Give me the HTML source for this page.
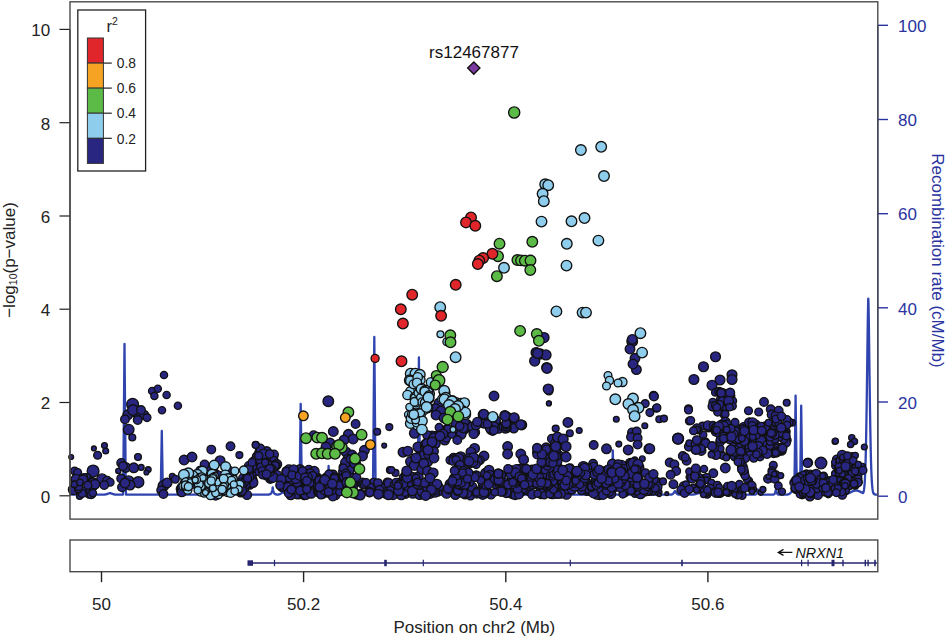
<!DOCTYPE html><html><head><meta charset="utf-8"><title>plot</title><style>html,body{margin:0;padding:0;background:#fff}svg{display:block}</style></head><body><svg width="946" height="637" viewBox="0 0 946 637" font-family="Liberation Sans, sans-serif">
<rect width="946" height="637" fill="#fff"/>
<path d="M70.5,494.6 L70.8,494.6 L71.1,494.6 L71.4,494.6 L71.7,494.6 L72.0,494.6 L72.3,494.6 L72.6,494.6 L72.9,494.6 L73.2,494.6 L73.5,494.6 L73.8,494.6 L74.1,494.6 L74.4,494.6 L74.7,494.6 L75.0,494.6 L75.3,494.6 L75.6,494.6 L75.9,494.6 L76.2,494.6 L76.5,494.6 L76.8,494.6 L77.1,494.6 L77.4,494.6 L77.7,494.6 L78.0,494.6 L78.3,494.6 L78.6,494.6 L78.9,494.6 L79.2,494.6 L79.5,494.6 L79.8,494.6 L80.1,494.6 L80.4,494.5 L80.7,494.5 L81.0,494.4 L81.3,494.4 L81.6,494.3 L81.9,494.1 L82.2,494.0 L82.5,493.8 L82.8,493.6 L83.1,493.4 L83.4,493.2 L83.7,493.0 L84.0,492.8 L84.3,492.7 L84.6,492.6 L84.9,492.5 L85.0,492.5 L85.2,492.5 L85.5,492.6 L85.8,492.7 L86.1,492.9 L86.4,493.1 L86.7,493.3 L87.0,493.5 L87.3,493.7 L87.6,493.9 L87.9,494.1 L88.2,494.2 L88.5,494.3 L88.8,494.4 L89.1,494.5 L89.4,494.5 L89.7,494.5 L90.0,494.6 L90.3,494.6 L90.6,494.6 L90.9,494.6 L91.2,494.6 L91.5,494.6 L91.8,494.6 L92.1,494.6 L92.4,494.6 L92.7,494.6 L93.0,494.6 L93.3,494.6 L93.6,494.6 L93.9,494.6 L94.2,494.6 L94.5,494.6 L94.8,494.6 L95.1,494.6 L95.4,494.6 L95.7,494.6 L96.0,494.6 L96.3,494.6 L96.6,494.6 L96.9,494.6 L97.2,494.6 L97.5,494.6 L97.8,494.6 L98.1,494.6 L98.4,494.6 L98.7,494.6 L99.0,494.6 L99.3,494.6 L99.6,494.6 L99.9,494.6 L100.2,494.6 L100.5,494.6 L100.8,494.6 L101.1,494.6 L101.4,494.6 L101.7,494.6 L102.0,494.6 L102.3,494.6 L102.6,494.6 L102.9,494.6 L103.2,494.6 L103.5,494.6 L103.8,494.6 L104.1,494.6 L104.4,494.6 L104.7,494.5 L105.0,494.5 L105.3,494.5 L105.6,494.4 L105.9,494.4 L106.2,494.3 L106.5,494.2 L106.8,494.2 L107.1,494.1 L107.4,493.9 L107.7,493.8 L108.0,493.7 L108.3,493.6 L108.6,493.5 L108.9,493.4 L109.2,493.3 L109.5,493.2 L109.8,493.2 L110.0,493.2 L110.1,493.2 L110.4,493.2 L110.7,493.3 L111.0,493.3 L111.3,493.4 L111.6,493.5 L111.9,493.7 L112.2,493.8 L112.5,493.9 L112.8,494.0 L113.1,494.1 L113.4,494.2 L113.7,494.3 L114.0,494.4 L114.3,494.4 L114.6,494.5 L114.9,494.5 L115.2,494.5 L115.5,494.6 L115.8,494.6 L116.1,494.6 L116.4,494.6 L116.7,494.6 L117.0,494.6 L117.3,494.6 L117.6,494.6 L117.9,494.6 L118.2,494.6 L118.5,494.6 L118.8,494.6 L119.1,494.6 L119.4,494.6 L119.7,494.6 L120.0,494.6 L120.3,494.6 L120.6,494.6 L120.9,494.6 L121.2,494.6 L121.5,494.6 L121.8,494.6 L122.1,494.6 L122.4,494.6 L122.7,494.6 L123.0,494.6 L123.3,483.0 L123.6,448.3 L123.9,413.5 L124.2,378.8 L124.5,344.0 L124.5,344.0 L124.8,378.8 L125.1,413.5 L125.4,448.3 L125.7,483.0 L126.0,494.6 L126.3,494.6 L126.6,494.6 L126.9,494.6 L127.2,494.6 L127.5,494.6 L127.8,494.6 L128.1,494.6 L128.4,494.6 L128.7,494.6 L129.0,494.6 L129.3,494.6 L129.6,494.6 L129.9,494.6 L130.2,494.6 L130.5,494.6 L130.8,494.6 L131.1,494.6 L131.4,494.6 L131.7,494.6 L132.0,494.6 L132.3,494.6 L132.6,494.6 L132.9,494.6 L133.2,494.6 L133.5,494.6 L133.8,494.6 L134.1,494.6 L134.4,494.6 L134.7,494.6 L135.0,494.6 L135.3,494.6 L135.6,494.6 L135.9,494.6 L136.2,494.6 L136.5,494.6 L136.8,494.6 L137.1,494.6 L137.4,494.6 L137.7,494.6 L138.0,494.6 L138.3,494.6 L138.6,494.6 L138.9,494.6 L139.2,494.6 L139.5,494.6 L139.8,494.6 L140.1,494.6 L140.4,494.6 L140.7,494.6 L141.0,494.6 L141.3,494.6 L141.6,494.6 L141.9,494.6 L142.2,494.6 L142.5,494.6 L142.8,494.6 L143.1,494.6 L143.4,494.6 L143.7,494.6 L144.0,494.6 L144.3,494.6 L144.6,494.6 L144.9,494.6 L145.2,494.6 L145.5,494.6 L145.8,494.6 L146.1,494.6 L146.4,494.6 L146.7,494.6 L147.0,494.6 L147.3,494.6 L147.6,494.6 L147.9,494.6 L148.2,494.6 L148.5,494.6 L148.8,494.6 L149.1,494.6 L149.4,494.6 L149.7,494.6 L150.0,494.6 L150.3,494.6 L150.6,494.6 L150.9,494.6 L151.2,494.6 L151.5,494.6 L151.8,494.6 L152.1,494.6 L152.4,494.6 L152.7,494.6 L153.0,494.6 L153.3,494.6 L153.6,494.6 L153.9,494.6 L154.2,494.6 L154.5,494.6 L154.8,494.6 L155.1,494.6 L155.4,494.6 L155.7,494.6 L156.0,494.6 L156.3,494.6 L156.6,494.6 L156.9,494.6 L157.2,494.6 L157.5,494.6 L157.8,494.6 L158.1,494.6 L158.4,494.6 L158.7,494.6 L159.0,494.6 L159.3,494.6 L159.6,494.6 L159.9,494.6 L160.2,494.6 L160.5,494.6 L160.8,488.8 L161.1,471.5 L161.4,454.1 L161.7,436.8 L161.8,431.0 L162.0,442.6 L162.3,459.9 L162.6,477.3 L162.9,494.6 L163.2,494.6 L163.5,494.6 L163.8,494.6 L164.1,494.6 L164.4,494.6 L164.7,494.6 L165.0,494.6 L165.3,494.6 L165.6,494.6 L165.9,494.6 L166.2,494.6 L166.5,494.6 L166.8,494.6 L167.1,494.6 L167.4,494.6 L167.7,494.6 L168.0,494.6 L168.3,494.6 L168.6,494.6 L168.9,494.6 L169.2,494.6 L169.5,494.6 L169.8,494.6 L170.1,494.6 L170.4,494.6 L170.7,494.6 L171.0,494.6 L171.3,494.6 L171.6,494.6 L171.9,494.6 L172.2,494.6 L172.5,494.6 L172.8,494.6 L173.1,494.6 L173.4,494.6 L173.7,494.6 L174.0,494.6 L174.3,494.6 L174.6,494.6 L174.9,494.6 L175.2,494.6 L175.5,494.6 L175.8,494.6 L176.1,494.6 L176.4,494.6 L176.7,494.6 L177.0,494.6 L177.3,494.6 L177.6,494.6 L177.9,494.6 L178.2,494.6 L178.5,494.6 L178.8,494.6 L179.1,494.6 L179.4,494.6 L179.7,494.6 L180.0,494.6 L180.3,494.6 L180.6,494.6 L180.9,494.6 L181.2,494.6 L181.5,494.6 L181.8,494.6 L182.1,494.6 L182.4,494.6 L182.7,494.6 L183.0,494.6 L183.3,494.6 L183.6,494.6 L183.9,494.6 L184.2,494.6 L184.5,494.6 L184.8,494.6 L185.1,494.6 L185.4,494.6 L185.7,494.6 L186.0,494.6 L186.3,494.6 L186.6,494.6 L186.9,494.6 L187.2,494.6 L187.5,494.6 L187.8,494.6 L188.1,494.6 L188.4,494.6 L188.7,494.6 L189.0,494.6 L189.3,494.6 L189.6,494.6 L189.9,494.6 L190.2,494.6 L190.5,494.6 L190.8,494.6 L191.1,494.6 L191.4,494.6 L191.7,494.6 L192.0,494.6 L192.3,494.6 L192.6,494.6 L192.9,494.6 L193.2,494.6 L193.5,494.6 L193.8,494.6 L194.1,494.6 L194.4,494.6 L194.7,494.6 L195.0,494.6 L195.3,494.6 L195.6,494.6 L195.9,494.6 L196.2,494.6 L196.5,494.6 L196.8,494.6 L197.1,494.6 L197.4,494.6 L197.7,494.6 L198.0,494.6 L198.3,494.6 L198.6,494.6 L198.9,494.6 L199.2,494.6 L199.5,494.6 L199.8,494.6 L200.1,494.6 L200.4,494.6 L200.7,494.6 L201.0,494.6 L201.3,494.6 L201.6,494.6 L201.9,494.6 L202.2,494.6 L202.5,494.6 L202.8,494.6 L203.1,494.6 L203.4,494.6 L203.7,494.6 L204.0,494.6 L204.3,494.6 L204.6,494.6 L204.9,494.6 L205.2,494.6 L205.5,494.6 L205.8,494.6 L206.1,494.6 L206.4,494.6 L206.7,494.6 L207.0,494.6 L207.3,494.6 L207.6,494.6 L207.9,494.6 L208.2,494.6 L208.5,494.6 L208.8,494.6 L209.1,494.6 L209.4,494.6 L209.7,494.6 L210.0,494.6 L210.3,494.6 L210.6,494.6 L210.9,494.6 L211.2,494.6 L211.5,494.6 L211.8,494.6 L212.1,494.6 L212.4,494.6 L212.7,494.6 L213.0,494.6 L213.3,494.6 L213.6,494.6 L213.9,494.6 L214.2,494.6 L214.5,494.6 L214.8,494.6 L215.1,494.6 L215.4,494.6 L215.7,494.6 L216.0,494.6 L216.3,494.6 L216.6,494.6 L216.9,494.6 L217.2,494.6 L217.5,494.6 L217.8,494.6 L218.1,494.6 L218.4,494.6 L218.7,494.6 L219.0,494.6 L219.3,494.6 L219.6,494.6 L219.9,494.6 L220.2,494.6 L220.5,494.6 L220.8,494.6 L221.1,494.6 L221.4,494.6 L221.7,494.6 L222.0,494.6 L222.3,494.6 L222.6,494.6 L222.9,494.6 L223.2,494.6 L223.5,494.6 L223.8,494.6 L224.1,494.6 L224.4,494.6 L224.7,494.6 L225.0,494.6 L225.3,494.6 L225.6,494.6 L225.9,494.6 L226.2,494.6 L226.5,494.6 L226.8,494.6 L227.1,494.6 L227.4,494.6 L227.7,494.6 L228.0,494.6 L228.3,494.6 L228.6,494.6 L228.9,494.6 L229.2,494.6 L229.5,494.6 L229.8,494.6 L230.1,494.6 L230.4,494.6 L230.7,494.6 L231.0,494.6 L231.3,494.6 L231.6,494.6 L231.9,494.6 L232.2,494.6 L232.5,494.6 L232.8,494.6 L233.1,494.6 L233.4,494.6 L233.7,494.6 L234.0,494.6 L234.3,494.6 L234.6,494.5 L234.9,494.5 L235.2,494.5 L235.5,494.4 L235.8,494.4 L236.1,494.3 L236.4,494.2 L236.7,494.1 L237.0,494.0 L237.3,493.9 L237.6,493.8 L237.9,493.6 L238.2,493.5 L238.5,493.4 L238.8,493.2 L239.1,493.1 L239.4,493.1 L239.7,493.0 L240.0,493.0 L240.0,493.0 L240.3,493.0 L240.6,493.1 L240.9,493.1 L241.2,493.2 L241.5,493.4 L241.8,493.5 L242.1,493.6 L242.4,493.8 L242.7,493.9 L243.0,494.0 L243.3,494.1 L243.6,494.2 L243.9,494.3 L244.2,494.4 L244.5,494.4 L244.8,494.5 L245.1,494.5 L245.4,494.5 L245.7,494.6 L246.0,494.6 L246.3,494.6 L246.6,494.6 L246.9,494.6 L247.2,494.6 L247.5,494.6 L247.8,494.6 L248.1,494.6 L248.4,494.6 L248.7,494.6 L249.0,494.6 L249.3,494.6 L249.6,494.6 L249.9,494.6 L250.2,494.6 L250.5,494.6 L250.8,494.6 L251.1,494.6 L251.4,494.6 L251.7,494.6 L252.0,494.6 L252.3,494.6 L252.6,494.6 L252.9,494.6 L253.2,494.6 L253.5,494.6 L253.8,494.6 L254.1,494.6 L254.4,494.6 L254.7,494.6 L255.0,494.6 L255.3,494.6 L255.6,494.6 L255.9,494.6 L256.2,494.6 L256.5,494.6 L256.8,494.6 L257.1,494.6 L257.4,494.6 L257.7,494.6 L258.0,494.6 L258.3,494.6 L258.6,494.6 L258.9,494.6 L259.2,494.6 L259.5,494.6 L259.8,494.6 L260.1,494.6 L260.4,494.6 L260.7,494.6 L261.0,494.6 L261.3,494.6 L261.6,494.6 L261.9,494.6 L262.2,494.6 L262.5,494.6 L262.8,494.6 L263.1,494.6 L263.4,494.6 L263.7,494.6 L264.0,494.6 L264.3,494.6 L264.6,494.6 L264.9,494.6 L265.2,494.6 L265.5,494.6 L265.8,494.6 L266.1,494.6 L266.4,494.6 L266.7,494.6 L267.0,494.6 L267.3,494.6 L267.6,494.6 L267.9,494.6 L268.2,494.6 L268.5,494.5 L268.8,494.5 L269.1,494.5 L269.4,494.4 L269.7,494.3 L270.0,494.2 L270.3,494.1 L270.6,493.9 L270.9,493.6 L271.2,493.3 L271.5,492.7 L271.8,492.0 L272.1,491.0 L272.4,489.5 L272.7,487.5 L272.7,487.5 L273.0,489.5 L273.3,491.0 L273.6,492.0 L273.9,492.7 L274.2,493.3 L274.5,493.6 L274.8,493.9 L275.1,494.1 L275.4,494.2 L275.7,494.3 L276.0,494.4 L276.3,494.5 L276.6,494.5 L276.9,494.5 L277.2,494.6 L277.5,494.6 L277.8,494.6 L278.1,494.6 L278.4,494.5 L278.7,494.5 L279.0,494.4 L279.3,494.4 L279.6,494.3 L279.9,494.1 L280.2,494.0 L280.5,493.8 L280.8,493.6 L281.1,493.4 L281.4,493.2 L281.7,493.0 L282.0,492.8 L282.3,492.7 L282.6,492.6 L282.9,492.5 L283.0,492.5 L283.2,492.5 L283.5,492.6 L283.8,492.7 L284.1,492.9 L284.4,493.1 L284.7,493.3 L285.0,493.5 L285.3,493.7 L285.6,493.9 L285.9,494.1 L286.2,494.2 L286.5,494.3 L286.8,494.4 L287.1,494.5 L287.4,494.5 L287.7,494.5 L288.0,494.6 L288.3,494.6 L288.6,494.6 L288.9,494.6 L289.2,494.6 L289.5,494.6 L289.8,494.6 L290.1,494.6 L290.4,494.6 L290.7,494.6 L291.0,494.6 L291.3,494.6 L291.6,494.6 L291.9,494.6 L292.2,494.6 L292.5,494.6 L292.8,494.6 L293.1,494.6 L293.4,494.6 L293.7,494.6 L294.0,494.6 L294.3,494.6 L294.6,494.6 L294.9,494.6 L295.2,494.6 L295.5,494.6 L295.8,494.6 L296.1,494.6 L296.4,494.6 L296.7,494.6 L297.0,494.6 L297.3,494.6 L297.6,494.6 L297.9,494.6 L298.2,494.6 L298.5,494.6 L298.8,494.6 L299.1,494.6 L299.4,494.6 L299.7,479.5 L300.0,456.8 L300.3,434.2 L300.6,411.5 L300.7,404.0 L300.9,419.1 L301.2,441.8 L301.5,464.4 L301.8,487.1 L302.1,484.0 L302.4,478.8 L302.7,473.9 L303.0,470.7 L303.2,470.0 L303.3,470.2 L303.6,472.6 L303.9,477.1 L304.2,482.3 L304.5,487.0 L304.8,490.4 L305.1,492.6 L305.4,493.7 L305.7,494.3 L306.0,494.5 L306.3,494.6 L306.6,494.6 L306.9,494.6 L307.2,494.6 L307.5,494.6 L307.8,494.6 L308.1,494.6 L308.4,494.6 L308.7,494.6 L309.0,494.6 L309.3,494.6 L309.6,494.6 L309.9,494.6 L310.2,494.6 L310.5,494.6 L310.8,494.6 L311.1,494.6 L311.4,494.6 L311.7,494.6 L312.0,494.6 L312.3,494.5 L312.6,494.5 L312.9,494.5 L313.2,494.4 L313.5,494.4 L313.8,494.3 L314.1,494.2 L314.4,494.1 L314.7,494.0 L315.0,493.8 L315.3,493.7 L315.6,493.5 L315.9,493.3 L316.2,493.1 L316.5,493.0 L316.8,492.8 L317.1,492.7 L317.4,492.6 L317.7,492.5 L318.0,492.5 L318.0,492.5 L318.3,492.5 L318.6,492.6 L318.9,492.7 L319.2,492.8 L319.5,493.0 L319.8,493.1 L320.1,493.3 L320.4,493.5 L320.7,493.7 L321.0,493.8 L321.3,494.0 L321.6,494.1 L321.9,494.2 L322.2,494.3 L322.5,494.4 L322.8,494.4 L323.1,494.5 L323.4,494.5 L323.7,494.5 L324.0,494.6 L324.3,494.6 L324.6,494.6 L324.9,494.6 L325.2,494.6 L325.5,494.6 L325.8,494.6 L326.1,494.6 L326.4,494.6 L326.7,494.6 L327.0,494.6 L327.3,494.6 L327.6,494.6 L327.9,488.2 L328.2,478.7 L328.5,469.2 L328.6,466.0 L328.8,472.4 L329.1,481.9 L329.4,491.4 L329.7,494.6 L330.0,494.6 L330.3,494.6 L330.6,494.6 L330.9,494.6 L331.2,494.6 L331.5,494.6 L331.8,494.6 L332.1,494.6 L332.4,494.6 L332.7,494.6 L333.0,494.6 L333.3,494.6 L333.6,494.6 L333.9,494.6 L334.2,494.6 L334.5,494.6 L334.8,494.6 L335.1,494.6 L335.4,494.6 L335.7,494.6 L336.0,494.6 L336.3,494.6 L336.6,494.6 L336.9,494.6 L337.2,494.6 L337.5,494.6 L337.8,494.6 L338.1,494.6 L338.4,494.6 L338.7,494.6 L339.0,494.6 L339.3,494.6 L339.6,494.6 L339.9,494.6 L340.2,494.6 L340.5,494.6 L340.8,494.6 L341.1,494.6 L341.4,494.6 L341.7,494.6 L342.0,494.6 L342.3,494.6 L342.6,494.6 L342.9,494.6 L343.2,494.6 L343.5,494.6 L343.8,494.6 L344.1,494.6 L344.4,494.6 L344.7,494.6 L345.0,494.6 L345.3,494.6 L345.6,494.6 L345.9,494.6 L346.2,494.6 L346.5,494.6 L346.8,494.6 L347.1,494.6 L347.4,494.6 L347.7,494.6 L348.0,494.6 L348.3,494.6 L348.6,494.6 L348.9,494.6 L349.2,494.6 L349.5,494.6 L349.8,494.6 L350.1,494.6 L350.4,494.6 L350.7,494.6 L351.0,494.6 L351.3,494.6 L351.6,494.6 L351.9,494.6 L352.2,494.6 L352.5,494.6 L352.8,494.6 L353.1,494.6 L353.4,494.6 L353.7,494.6 L354.0,494.6 L354.3,494.6 L354.6,494.6 L354.9,494.6 L355.2,494.6 L355.5,494.6 L355.8,494.6 L356.1,494.6 L356.4,494.6 L356.7,494.6 L357.0,494.6 L357.3,494.6 L357.6,494.6 L357.9,494.6 L358.2,494.6 L358.5,494.6 L358.8,494.6 L359.1,494.6 L359.4,494.6 L359.7,494.6 L360.0,494.6 L360.3,494.6 L360.6,494.6 L360.9,494.6 L361.2,494.6 L361.5,494.6 L361.8,494.6 L362.1,494.6 L362.4,494.6 L362.7,494.6 L363.0,494.6 L363.3,494.6 L363.6,494.6 L363.9,494.6 L364.2,494.6 L364.5,494.6 L364.8,494.6 L365.1,494.6 L365.4,494.6 L365.7,494.6 L366.0,494.6 L366.3,494.6 L366.6,494.6 L366.9,494.6 L367.2,494.6 L367.5,494.6 L367.8,494.6 L368.1,494.6 L368.4,494.6 L368.7,494.6 L369.0,494.6 L369.3,494.6 L369.6,494.6 L369.9,494.6 L370.2,494.6 L370.5,494.6 L370.8,494.6 L371.1,494.6 L371.4,494.6 L371.7,494.6 L372.0,494.6 L372.3,494.6 L372.6,494.6 L372.9,494.6 L373.2,465.4 L373.5,430.4 L373.8,395.3 L374.1,360.3 L374.3,336.9 L374.4,348.6 L374.7,383.6 L375.0,418.7 L375.3,453.7 L375.6,488.8 L375.9,494.6 L376.2,494.6 L376.5,494.6 L376.8,494.6 L377.1,494.6 L377.4,494.6 L377.7,494.6 L378.0,494.6 L378.3,494.6 L378.6,494.6 L378.9,494.6 L379.2,494.6 L379.5,494.6 L379.8,494.6 L380.1,494.6 L380.4,494.6 L380.7,494.6 L381.0,494.6 L381.3,494.6 L381.6,494.6 L381.9,494.6 L382.2,494.6 L382.5,494.6 L382.8,494.6 L383.1,494.6 L383.4,494.6 L383.7,494.6 L384.0,494.6 L384.3,494.6 L384.6,494.6 L384.9,494.6 L385.2,494.6 L385.5,494.6 L385.8,494.6 L386.1,494.6 L386.4,494.6 L386.7,494.6 L387.0,494.6 L387.3,494.6 L387.6,494.6 L387.9,494.6 L388.2,494.6 L388.5,494.6 L388.8,494.6 L389.1,494.6 L389.4,494.6 L389.7,494.6 L390.0,494.6 L390.3,494.6 L390.6,494.6 L390.9,494.6 L391.2,494.6 L391.5,494.6 L391.8,494.6 L392.1,494.6 L392.4,494.6 L392.7,494.6 L393.0,494.6 L393.3,494.6 L393.6,494.6 L393.9,494.6 L394.2,494.6 L394.5,494.6 L394.8,494.6 L395.1,494.6 L395.4,494.6 L395.7,494.6 L396.0,494.6 L396.3,494.6 L396.6,494.6 L396.9,494.6 L397.2,494.6 L397.5,494.6 L397.8,494.6 L398.1,494.6 L398.4,494.6 L398.7,494.6 L399.0,494.6 L399.3,494.6 L399.6,494.6 L399.9,494.6 L400.2,494.6 L400.5,494.6 L400.8,494.6 L401.1,494.6 L401.4,494.6 L401.7,494.6 L402.0,494.6 L402.3,494.6 L402.6,494.6 L402.9,494.6 L403.2,494.6 L403.5,494.6 L403.8,494.6 L404.1,494.6 L404.4,494.6 L404.7,494.6 L405.0,494.6 L405.3,494.6 L405.6,494.6 L405.9,494.6 L406.2,494.6 L406.5,494.6 L406.8,494.6 L407.1,494.6 L407.4,494.6 L407.7,494.6 L408.0,494.6 L408.3,494.6 L408.6,494.6 L408.9,494.6 L409.2,494.6 L409.5,494.6 L409.8,494.6 L410.1,494.6 L410.4,494.6 L410.7,494.6 L411.0,494.6 L411.3,494.6 L411.6,494.6 L411.9,494.6 L412.2,494.6 L412.5,494.6 L412.8,494.6 L413.1,494.6 L413.4,494.6 L413.7,494.6 L414.0,494.6 L414.3,494.6 L414.6,494.6 L414.9,494.6 L415.2,494.6 L415.5,494.6 L415.8,494.6 L416.1,494.6 L416.4,494.6 L416.7,494.6 L417.0,494.6 L417.3,494.6 L417.6,494.6 L417.9,471.7 L418.2,437.5 L418.5,403.2 L418.8,368.9 L418.9,357.5 L419.1,380.4 L419.4,414.6 L419.7,448.9 L420.0,483.2 L420.3,494.6 L420.6,494.6 L420.9,494.6 L421.2,494.6 L421.5,494.6 L421.8,494.6 L422.1,494.6 L422.4,494.6 L422.7,494.6 L423.0,494.6 L423.3,494.6 L423.6,494.6 L423.9,494.6 L424.2,494.6 L424.5,494.6 L424.8,494.6 L425.1,494.6 L425.4,494.6 L425.7,494.6 L426.0,494.6 L426.3,494.6 L426.6,494.6 L426.9,494.6 L427.2,494.6 L427.5,494.6 L427.8,494.6 L428.1,494.6 L428.4,494.6 L428.7,494.6 L429.0,494.6 L429.3,494.6 L429.6,494.6 L429.9,494.6 L430.2,494.6 L430.5,494.6 L430.8,494.6 L431.1,494.6 L431.4,494.6 L431.7,494.6 L432.0,494.6 L432.3,494.6 L432.6,494.6 L432.9,494.6 L433.2,494.6 L433.5,494.6 L433.8,494.6 L434.1,494.6 L434.4,494.6 L434.7,494.6 L435.0,494.6 L435.3,494.6 L435.6,494.6 L435.9,494.6 L436.2,494.6 L436.5,494.6 L436.8,494.6 L437.1,494.6 L437.4,494.6 L437.7,494.6 L438.0,494.6 L438.3,494.6 L438.6,494.6 L438.9,494.6 L439.2,494.6 L439.5,494.6 L439.8,494.6 L440.1,494.6 L440.4,494.6 L440.7,494.6 L441.0,494.6 L441.3,494.6 L441.6,494.6 L441.9,494.6 L442.2,494.6 L442.5,494.6 L442.8,494.6 L443.1,494.6 L443.4,494.6 L443.7,494.6 L444.0,494.6 L444.3,494.6 L444.6,494.6 L444.9,494.6 L445.2,494.6 L445.5,494.6 L445.8,494.6 L446.1,494.6 L446.4,494.6 L446.7,494.6 L447.0,494.6 L447.3,494.6 L447.6,494.6 L447.9,494.6 L448.2,494.6 L448.5,494.6 L448.8,494.6 L449.1,494.6 L449.4,494.6 L449.7,494.5 L450.0,494.5 L450.3,494.5 L450.6,494.4 L450.9,494.4 L451.2,494.3 L451.5,494.2 L451.8,494.1 L452.1,494.0 L452.4,493.8 L452.7,493.7 L453.0,493.6 L453.3,493.4 L453.6,493.3 L453.9,493.2 L454.2,493.1 L454.5,493.0 L454.8,493.0 L455.0,493.0 L455.1,493.0 L455.4,493.0 L455.7,493.1 L456.0,493.2 L456.3,493.3 L456.6,493.4 L456.9,493.5 L457.2,493.7 L457.5,493.8 L457.8,493.9 L458.1,494.0 L458.4,494.2 L458.7,494.3 L459.0,494.3 L459.3,494.4 L459.6,494.4 L459.9,494.5 L460.2,494.5 L460.5,494.5 L460.8,494.6 L461.1,494.6 L461.4,494.6 L461.7,494.6 L462.0,494.6 L462.3,494.6 L462.6,494.6 L462.9,494.6 L463.2,494.6 L463.5,494.6 L463.8,494.6 L464.1,494.6 L464.4,494.6 L464.7,494.6 L465.0,494.6 L465.3,494.6 L465.6,494.6 L465.9,494.6 L466.2,494.6 L466.5,494.6 L466.8,494.6 L467.1,494.6 L467.4,494.6 L467.7,494.6 L468.0,494.6 L468.3,494.6 L468.6,494.6 L468.9,494.6 L469.2,494.6 L469.5,494.6 L469.8,494.6 L470.1,494.6 L470.4,494.6 L470.7,494.6 L471.0,494.6 L471.3,494.6 L471.6,494.6 L471.9,494.6 L472.2,494.6 L472.5,494.6 L472.8,494.6 L473.1,494.6 L473.4,494.6 L473.7,494.6 L474.0,494.6 L474.3,494.6 L474.6,494.6 L474.9,494.6 L475.2,494.6 L475.5,494.6 L475.8,494.6 L476.1,494.6 L476.4,494.6 L476.7,494.6 L477.0,494.6 L477.3,494.6 L477.6,494.6 L477.9,494.6 L478.2,494.6 L478.5,494.6 L478.8,494.6 L479.1,494.6 L479.4,494.6 L479.7,494.6 L480.0,494.6 L480.3,494.6 L480.6,494.6 L480.9,494.6 L481.2,494.6 L481.5,494.6 L481.8,494.6 L482.1,494.6 L482.4,494.6 L482.7,494.6 L483.0,494.6 L483.3,494.6 L483.6,494.6 L483.9,494.6 L484.2,494.6 L484.5,494.6 L484.8,494.6 L485.1,494.6 L485.4,494.6 L485.7,494.6 L486.0,494.6 L486.3,494.6 L486.6,494.6 L486.9,494.6 L487.2,494.6 L487.5,494.6 L487.8,494.6 L488.1,494.6 L488.4,494.6 L488.7,494.6 L489.0,494.6 L489.3,494.6 L489.6,494.6 L489.9,494.6 L490.2,494.6 L490.5,494.6 L490.8,494.6 L491.1,494.6 L491.4,494.6 L491.7,494.6 L492.0,494.6 L492.3,494.6 L492.6,494.6 L492.9,494.6 L493.2,494.6 L493.5,494.6 L493.8,494.6 L494.1,494.6 L494.4,494.6 L494.7,494.6 L495.0,494.6 L495.3,494.6 L495.6,494.6 L495.9,494.6 L496.2,494.6 L496.5,494.6 L496.8,494.6 L497.1,494.6 L497.4,494.6 L497.7,494.6 L498.0,494.6 L498.3,494.6 L498.6,494.6 L498.9,494.6 L499.2,494.6 L499.5,494.6 L499.8,494.6 L500.1,494.6 L500.4,494.6 L500.7,494.6 L501.0,494.6 L501.3,494.6 L501.6,494.6 L501.9,494.6 L502.2,494.6 L502.5,494.6 L502.8,494.6 L503.1,494.6 L503.4,494.6 L503.7,494.6 L504.0,494.6 L504.3,494.6 L504.6,494.6 L504.9,494.6 L505.2,494.6 L505.5,494.6 L505.8,494.6 L506.1,494.6 L506.4,494.6 L506.7,494.6 L507.0,494.6 L507.3,494.6 L507.6,494.6 L507.9,494.6 L508.2,494.6 L508.5,494.6 L508.8,494.6 L509.1,494.6 L509.4,494.6 L509.7,494.6 L510.0,494.6 L510.3,494.6 L510.6,494.6 L510.9,494.6 L511.2,494.6 L511.5,494.6 L511.8,494.6 L512.1,494.6 L512.4,494.6 L512.7,494.6 L513.0,494.6 L513.3,494.6 L513.6,494.6 L513.9,494.6 L514.2,494.6 L514.5,494.6 L514.8,494.6 L515.1,494.6 L515.4,494.6 L515.7,494.6 L516.0,494.6 L516.3,494.6 L516.6,494.6 L516.9,494.6 L517.2,494.6 L517.5,494.6 L517.8,494.6 L518.1,494.6 L518.4,494.6 L518.7,494.6 L519.0,494.6 L519.3,494.6 L519.6,494.6 L519.9,494.6 L520.2,494.6 L520.5,494.6 L520.8,494.6 L521.1,494.6 L521.4,494.6 L521.7,494.6 L522.0,494.6 L522.3,494.6 L522.6,494.6 L522.9,494.6 L523.2,494.6 L523.5,494.6 L523.8,494.6 L524.1,494.6 L524.4,494.6 L524.7,494.6 L525.0,494.6 L525.3,494.6 L525.6,494.6 L525.9,494.6 L526.2,494.6 L526.5,494.6 L526.8,494.6 L527.1,494.6 L527.4,494.6 L527.7,494.6 L528.0,494.6 L528.3,494.6 L528.6,494.6 L528.9,494.6 L529.2,494.6 L529.5,494.6 L529.8,494.6 L530.1,494.6 L530.4,494.6 L530.7,494.6 L531.0,494.6 L531.3,494.6 L531.6,494.6 L531.9,494.6 L532.2,494.6 L532.5,494.6 L532.8,494.6 L533.1,494.6 L533.4,494.6 L533.7,494.6 L534.0,494.6 L534.3,494.6 L534.6,494.6 L534.9,494.6 L535.2,494.6 L535.5,494.6 L535.8,494.6 L536.1,494.6 L536.4,494.6 L536.7,494.6 L537.0,494.6 L537.3,494.6 L537.6,494.6 L537.9,494.6 L538.2,494.6 L538.5,494.6 L538.8,494.6 L539.1,494.6 L539.4,494.6 L539.7,494.6 L540.0,494.6 L540.3,494.6 L540.6,494.6 L540.9,494.6 L541.2,494.6 L541.5,494.6 L541.8,494.6 L542.1,494.6 L542.4,494.6 L542.7,494.6 L543.0,494.6 L543.3,494.6 L543.6,494.6 L543.9,494.6 L544.2,494.6 L544.5,494.6 L544.8,494.6 L545.1,494.6 L545.4,494.6 L545.7,494.6 L546.0,494.6 L546.3,494.6 L546.6,494.6 L546.9,494.6 L547.2,494.6 L547.5,494.6 L547.8,494.6 L548.1,494.6 L548.4,494.6 L548.7,494.6 L549.0,494.6 L549.3,491.3 L549.6,481.6 L549.9,471.8 L550.2,462.0 L550.2,462.0 L550.5,471.8 L550.8,481.6 L551.1,491.3 L551.4,494.6 L551.7,494.6 L552.0,494.6 L552.3,494.6 L552.6,494.6 L552.9,494.6 L553.2,494.6 L553.5,494.6 L553.8,494.6 L554.1,494.6 L554.4,494.6 L554.7,494.6 L555.0,494.6 L555.3,494.6 L555.6,494.6 L555.9,494.6 L556.2,494.6 L556.5,494.6 L556.8,494.6 L557.1,494.6 L557.4,494.6 L557.7,494.6 L558.0,494.6 L558.3,494.6 L558.6,494.6 L558.9,494.6 L559.2,494.6 L559.5,494.6 L559.8,494.6 L560.1,494.6 L560.4,494.6 L560.7,494.6 L561.0,494.6 L561.3,494.6 L561.6,494.6 L561.9,494.6 L562.2,494.6 L562.5,494.6 L562.8,494.6 L563.1,494.6 L563.4,494.6 L563.7,494.6 L564.0,494.6 L564.3,494.6 L564.6,494.6 L564.9,494.6 L565.2,494.6 L565.5,494.6 L565.8,494.6 L566.1,494.6 L566.4,494.6 L566.7,494.6 L567.0,494.6 L567.3,494.6 L567.6,494.6 L567.9,494.6 L568.2,494.6 L568.5,494.6 L568.8,494.6 L569.1,494.6 L569.4,494.6 L569.7,494.6 L570.0,494.6 L570.3,494.6 L570.6,494.6 L570.9,494.6 L571.2,494.6 L571.5,494.6 L571.8,494.6 L572.1,494.6 L572.4,494.6 L572.7,494.6 L573.0,494.6 L573.3,494.6 L573.6,494.6 L573.9,494.6 L574.2,494.6 L574.5,494.6 L574.8,494.6 L575.1,494.6 L575.4,494.6 L575.7,494.6 L576.0,494.6 L576.3,494.6 L576.6,494.6 L576.9,494.6 L577.2,494.6 L577.5,494.6 L577.8,494.6 L578.1,494.6 L578.4,494.6 L578.7,494.6 L579.0,494.6 L579.3,494.6 L579.6,494.6 L579.9,494.6 L580.2,494.6 L580.5,494.6 L580.8,494.6 L581.1,494.6 L581.4,494.6 L581.7,494.6 L582.0,494.6 L582.3,494.6 L582.6,494.6 L582.9,494.6 L583.2,494.6 L583.5,494.6 L583.8,494.6 L584.1,494.6 L584.4,494.6 L584.7,494.6 L585.0,494.6 L585.3,494.6 L585.6,494.6 L585.9,494.6 L586.2,494.6 L586.5,494.6 L586.8,494.6 L587.1,494.6 L587.4,494.6 L587.7,494.6 L588.0,494.6 L588.3,494.6 L588.6,494.6 L588.9,494.6 L589.2,494.6 L589.5,494.6 L589.8,494.6 L590.1,494.6 L590.4,494.6 L590.7,494.6 L591.0,494.6 L591.3,494.6 L591.6,494.6 L591.9,494.6 L592.2,494.6 L592.5,494.6 L592.8,494.6 L593.1,494.6 L593.4,494.6 L593.7,494.6 L594.0,494.6 L594.3,494.6 L594.6,494.6 L594.9,494.6 L595.2,494.6 L595.5,494.6 L595.8,494.6 L596.1,494.6 L596.4,494.6 L596.7,494.6 L597.0,494.6 L597.3,494.6 L597.6,494.6 L597.9,494.6 L598.2,494.6 L598.5,494.6 L598.8,494.6 L599.1,494.6 L599.4,494.6 L599.7,494.6 L600.0,494.6 L600.3,494.6 L600.6,494.6 L600.9,494.6 L601.2,494.6 L601.5,494.6 L601.8,494.6 L602.1,494.6 L602.4,494.6 L602.7,494.6 L603.0,494.6 L603.3,494.6 L603.6,494.6 L603.9,494.6 L604.2,494.6 L604.5,494.6 L604.8,494.6 L605.1,494.6 L605.4,494.6 L605.7,494.6 L606.0,494.6 L606.3,494.6 L606.6,494.6 L606.9,494.6 L607.2,494.6 L607.5,494.6 L607.8,494.6 L608.1,494.6 L608.4,494.6 L608.7,494.6 L609.0,494.6 L609.3,494.6 L609.6,494.6 L609.9,494.6 L610.2,494.6 L610.5,494.6 L610.8,494.6 L611.1,494.6 L611.4,494.6 L611.7,494.6 L612.0,485.8 L612.3,472.6 L612.6,459.3 L612.8,450.5 L612.9,454.9 L613.2,468.1 L613.5,481.4 L613.8,494.6 L614.1,494.6 L614.4,494.6 L614.7,494.6 L615.0,494.6 L615.3,494.6 L615.6,494.6 L615.9,494.6 L616.2,494.6 L616.5,494.6 L616.8,494.6 L617.1,494.6 L617.4,494.6 L617.7,494.6 L618.0,494.6 L618.3,494.6 L618.6,494.6 L618.9,494.6 L619.2,494.6 L619.5,494.6 L619.8,494.6 L620.1,494.6 L620.4,494.6 L620.7,494.6 L621.0,494.6 L621.3,494.6 L621.6,494.6 L621.9,494.6 L622.2,494.6 L622.5,494.6 L622.8,494.6 L623.1,494.6 L623.4,494.6 L623.7,494.6 L624.0,494.6 L624.3,494.6 L624.6,494.6 L624.9,494.6 L625.2,494.6 L625.5,494.6 L625.8,494.6 L626.1,494.6 L626.4,494.6 L626.7,494.6 L627.0,494.6 L627.3,494.6 L627.6,494.6 L627.9,494.6 L628.2,494.6 L628.5,494.6 L628.8,494.6 L629.1,494.6 L629.4,494.6 L629.7,494.6 L630.0,494.6 L630.3,494.6 L630.6,494.6 L630.9,494.6 L631.2,494.6 L631.5,494.6 L631.8,494.6 L632.1,494.6 L632.4,494.6 L632.7,494.6 L633.0,494.6 L633.3,494.6 L633.6,494.6 L633.9,494.6 L634.2,494.6 L634.5,494.6 L634.8,494.5 L635.1,494.5 L635.4,494.5 L635.7,494.4 L636.0,494.4 L636.3,494.3 L636.6,494.2 L636.9,494.1 L637.2,494.0 L637.5,493.9 L637.8,493.8 L638.1,493.7 L638.4,493.5 L638.7,493.4 L639.0,493.3 L639.3,493.3 L639.6,493.2 L639.9,493.2 L640.0,493.2 L640.2,493.2 L640.5,493.2 L640.8,493.3 L641.1,493.4 L641.4,493.5 L641.7,493.6 L642.0,493.7 L642.3,493.8 L642.6,493.9 L642.9,494.1 L643.2,494.2 L643.5,494.2 L643.8,494.3 L644.1,494.4 L644.4,494.4 L644.7,494.5 L645.0,494.5 L645.3,494.5 L645.6,494.6 L645.9,494.6 L646.2,494.6 L646.5,494.6 L646.8,494.6 L647.1,494.6 L647.4,494.6 L647.7,494.6 L648.0,494.6 L648.3,494.6 L648.6,494.6 L648.9,494.6 L649.2,494.6 L649.5,494.6 L649.8,494.6 L650.1,494.6 L650.4,494.6 L650.7,494.6 L651.0,494.6 L651.3,494.6 L651.6,494.6 L651.9,494.6 L652.2,494.6 L652.5,494.6 L652.8,494.6 L653.1,494.6 L653.4,494.6 L653.7,494.6 L654.0,494.6 L654.3,494.6 L654.6,494.6 L654.9,494.6 L655.2,494.6 L655.5,494.6 L655.8,494.6 L656.1,494.6 L656.4,494.6 L656.7,494.6 L657.0,494.6 L657.3,494.6 L657.6,494.6 L657.9,494.6 L658.2,494.6 L658.5,494.6 L658.8,494.6 L659.1,494.6 L659.4,494.6 L659.7,494.6 L660.0,494.6 L660.3,494.6 L660.6,494.6 L660.9,494.6 L661.2,494.6 L661.5,494.6 L661.8,494.6 L662.1,494.6 L662.4,494.6 L662.7,494.6 L663.0,494.6 L663.3,494.6 L663.6,494.6 L663.9,494.6 L664.2,494.6 L664.5,494.6 L664.8,494.6 L665.1,494.6 L665.4,494.6 L665.7,494.6 L666.0,494.6 L666.3,494.6 L666.6,494.6 L666.9,494.6 L667.2,494.6 L667.5,494.6 L667.8,494.6 L668.1,494.6 L668.4,494.6 L668.7,494.6 L669.0,494.6 L669.3,494.6 L669.6,494.6 L669.9,494.6 L670.2,494.6 L670.5,494.6 L670.8,494.6 L671.1,494.5 L671.4,494.5 L671.7,494.5 L672.0,494.4 L672.3,494.3 L672.6,494.1 L672.9,493.9 L673.2,493.6 L673.5,493.3 L673.8,492.8 L674.1,492.3 L674.4,491.8 L674.7,491.3 L675.0,491.0 L675.0,491.0 L675.3,491.3 L675.6,491.8 L675.9,492.3 L676.2,492.8 L676.5,493.3 L676.8,493.6 L677.1,493.9 L677.4,494.1 L677.7,494.3 L678.0,494.4 L678.3,494.5 L678.6,494.5 L678.9,494.5 L679.2,494.6 L679.5,494.6 L679.8,494.6 L680.1,494.6 L680.4,494.6 L680.7,494.6 L681.0,494.6 L681.3,494.6 L681.6,494.6 L681.9,494.6 L682.2,494.6 L682.5,494.6 L682.8,494.6 L683.1,494.6 L683.4,494.6 L683.7,494.6 L684.0,494.6 L684.3,494.6 L684.6,494.6 L684.9,494.6 L685.2,494.6 L685.5,494.6 L685.8,494.6 L686.1,494.6 L686.4,494.6 L686.7,494.6 L687.0,494.6 L687.3,494.6 L687.6,494.6 L687.9,494.6 L688.2,494.6 L688.5,494.6 L688.8,494.6 L689.1,494.6 L689.4,494.6 L689.7,494.6 L690.0,494.6 L690.3,494.6 L690.6,494.6 L690.9,494.6 L691.2,494.6 L691.5,494.6 L691.8,494.6 L692.1,494.6 L692.4,494.6 L692.7,494.5 L693.0,494.5 L693.3,494.5 L693.6,494.5 L693.9,494.4 L694.2,494.4 L694.5,494.4 L694.8,494.3 L695.1,494.2 L695.4,494.2 L695.7,494.1 L696.0,494.0 L696.3,493.9 L696.6,493.8 L696.9,493.7 L697.2,493.6 L697.5,493.5 L697.8,493.4 L698.1,493.3 L698.4,493.2 L698.7,493.2 L699.0,493.1 L699.3,493.0 L699.6,493.0 L699.9,493.0 L700.0,493.0 L700.2,493.0 L700.5,493.0 L700.8,493.1 L701.1,493.1 L701.4,493.2 L701.7,493.3 L702.0,493.4 L702.3,493.5 L702.6,493.6 L702.9,493.7 L703.2,493.8 L703.5,493.9 L703.8,494.0 L704.1,494.0 L704.4,494.1 L704.7,494.2 L705.0,494.3 L705.3,494.3 L705.6,494.4 L705.9,494.4 L706.2,494.5 L706.5,494.5 L706.8,494.5 L707.1,494.5 L707.4,494.5 L707.7,494.6 L708.0,494.6 L708.3,494.6 L708.6,494.6 L708.9,494.6 L709.2,494.6 L709.5,494.6 L709.8,494.6 L710.1,494.6 L710.4,494.6 L710.7,494.6 L711.0,494.6 L711.3,494.6 L711.6,494.6 L711.9,494.6 L712.2,494.6 L712.5,494.6 L712.8,494.6 L713.1,494.6 L713.4,494.6 L713.7,494.6 L714.0,494.6 L714.3,494.6 L714.6,494.6 L714.9,494.6 L715.2,494.6 L715.5,494.6 L715.8,494.6 L716.1,494.6 L716.4,494.6 L716.7,494.6 L717.0,494.6 L717.3,494.6 L717.6,494.6 L717.9,494.6 L718.2,494.6 L718.5,494.6 L718.8,494.6 L719.1,494.6 L719.4,494.6 L719.7,494.6 L720.0,494.6 L720.3,494.6 L720.6,494.6 L720.9,494.6 L721.2,494.6 L721.5,494.6 L721.8,494.6 L722.1,494.6 L722.4,494.6 L722.7,494.6 L723.0,494.6 L723.3,494.6 L723.6,494.6 L723.9,494.6 L724.2,494.6 L724.5,494.5 L724.8,494.5 L725.1,494.5 L725.4,494.4 L725.7,494.4 L726.0,494.3 L726.3,494.3 L726.6,494.2 L726.9,494.0 L727.2,493.9 L727.5,493.8 L727.8,493.7 L728.1,493.5 L728.4,493.4 L728.7,493.3 L729.0,493.2 L729.3,493.1 L729.6,493.0 L729.9,493.0 L730.0,493.0 L730.2,493.0 L730.5,493.0 L730.8,493.1 L731.1,493.2 L731.4,493.3 L731.7,493.4 L732.0,493.6 L732.3,493.7 L732.6,493.8 L732.9,494.0 L733.2,494.1 L733.5,494.2 L733.8,494.3 L734.1,494.4 L734.4,494.4 L734.7,494.5 L735.0,494.5 L735.3,494.5 L735.6,494.6 L735.9,494.6 L736.2,494.6 L736.5,494.6 L736.8,494.6 L737.1,494.6 L737.4,494.6 L737.7,494.6 L738.0,494.6 L738.3,494.6 L738.6,494.6 L738.9,494.6 L739.2,494.6 L739.5,494.6 L739.8,494.6 L740.1,494.6 L740.4,494.6 L740.7,494.6 L741.0,494.6 L741.3,494.6 L741.6,494.6 L741.9,494.6 L742.2,494.6 L742.5,494.6 L742.8,494.6 L743.1,494.6 L743.4,494.6 L743.7,494.6 L744.0,494.6 L744.3,494.6 L744.6,494.6 L744.9,494.6 L745.2,494.6 L745.5,494.6 L745.8,494.6 L746.1,494.6 L746.4,494.6 L746.7,494.6 L747.0,494.6 L747.3,494.6 L747.6,494.6 L747.9,494.6 L748.2,494.6 L748.5,494.6 L748.8,494.6 L749.1,494.6 L749.4,494.6 L749.7,494.6 L750.0,494.6 L750.3,494.6 L750.6,494.6 L750.9,494.6 L751.2,494.6 L751.5,494.6 L751.8,494.6 L752.1,494.6 L752.4,494.6 L752.7,494.6 L753.0,494.6 L753.3,494.6 L753.6,494.6 L753.9,494.6 L754.2,494.6 L754.5,494.6 L754.8,494.6 L755.1,494.6 L755.4,494.5 L755.7,494.4 L756.0,494.3 L756.3,494.0 L756.6,493.6 L756.9,493.0 L757.2,492.1 L757.5,491.0 L757.8,489.9 L758.0,489.5 L758.1,489.7 L758.4,490.6 L758.7,491.8 L759.0,492.7 L759.3,493.4 L759.6,493.9 L759.9,494.2 L760.2,494.4 L760.5,494.5 L760.8,494.6 L761.1,494.6 L761.4,494.6 L761.7,494.6 L762.0,494.6 L762.3,494.6 L762.6,494.6 L762.9,494.6 L763.2,494.6 L763.5,494.6 L763.8,494.6 L764.1,494.6 L764.4,494.6 L764.7,494.6 L765.0,494.6 L765.3,494.6 L765.6,494.6 L765.9,494.6 L766.2,494.6 L766.5,494.6 L766.8,494.6 L767.1,494.6 L767.4,494.6 L767.7,494.6 L768.0,494.6 L768.3,494.6 L768.6,494.6 L768.9,494.6 L769.2,494.6 L769.5,494.6 L769.8,494.6 L770.1,494.6 L770.4,494.6 L770.7,494.6 L771.0,494.6 L771.3,494.6 L771.6,494.6 L771.9,494.6 L772.2,494.6 L772.5,494.6 L772.8,494.6 L773.1,494.6 L773.4,494.6 L773.7,494.5 L774.0,494.4 L774.3,494.2 L774.6,493.9 L774.9,493.3 L775.2,492.4 L775.5,491.2 L775.8,490.0 L776.0,489.5 L776.1,489.7 L776.4,490.8 L776.7,492.0 L777.0,493.0 L777.3,493.7 L777.6,494.1 L777.9,494.4 L778.2,494.5 L778.5,494.6 L778.8,494.6 L779.1,494.6 L779.4,494.6 L779.7,494.6 L780.0,494.6 L780.3,494.6 L780.6,494.6 L780.9,494.6 L781.2,494.6 L781.5,494.6 L781.8,494.6 L782.1,494.6 L782.4,494.6 L782.7,494.6 L783.0,494.6 L783.3,494.6 L783.6,494.6 L783.9,494.6 L784.2,494.6 L784.5,494.6 L784.8,494.6 L785.1,494.6 L785.4,494.6 L785.7,494.6 L786.0,494.6 L786.3,494.6 L786.6,494.6 L786.9,494.6 L787.2,494.5 L787.5,494.5 L787.8,494.5 L788.1,494.4 L788.4,494.3 L788.7,494.2 L789.0,494.1 L789.3,494.0 L789.6,493.8 L789.9,493.5 L790.2,493.3 L790.5,492.9 L790.8,492.5 L791.1,492.1 L791.4,491.6 L791.7,491.0 L792.0,490.4 L792.3,489.7 L792.6,489.0 L792.9,488.2 L793.2,487.4 L793.5,486.6 L793.8,485.8 L794.1,485.0 L794.4,484.3 L794.7,466.9 L795.0,443.1 L795.3,419.4 L795.6,395.6 L795.6,395.6 L795.9,419.4 L796.2,443.1 L796.5,466.9 L796.8,480.3 L797.1,480.2 L797.4,480.1 L797.7,480.0 L798.0,480.0 L798.0,480.0 L798.3,480.0 L798.6,480.1 L798.9,480.2 L799.2,480.3 L799.5,480.6 L799.8,480.9 L800.1,481.3 L800.4,467.5 L800.7,444.3 L801.0,421.1 L801.2,405.6 L801.3,413.3 L801.6,436.6 L801.9,459.8 L802.2,483.0 L802.5,486.6 L802.8,487.4 L803.1,488.2 L803.4,489.0 L803.7,489.7 L804.0,490.4 L804.3,491.0 L804.6,491.6 L804.9,492.1 L805.2,492.5 L805.5,492.9 L805.8,493.3 L806.1,493.5 L806.4,493.8 L806.7,494.0 L807.0,494.1 L807.3,494.2 L807.6,494.3 L807.9,494.4 L808.2,494.5 L808.5,494.5 L808.8,494.5 L809.1,494.6 L809.4,494.6 L809.7,494.6 L810.0,494.6 L810.3,494.6 L810.6,494.6 L810.9,494.6 L811.2,494.6 L811.5,494.6 L811.8,494.6 L812.1,494.6 L812.4,494.6 L812.7,494.6 L813.0,494.6 L813.3,494.6 L813.6,494.6 L813.9,494.6 L814.2,494.6 L814.5,494.6 L814.8,494.6 L815.1,494.6 L815.4,494.6 L815.7,494.6 L816.0,494.6 L816.3,494.6 L816.6,494.6 L816.9,494.6 L817.2,494.6 L817.5,494.6 L817.8,494.6 L818.1,494.6 L818.4,494.6 L818.7,494.6 L819.0,494.6 L819.3,494.6 L819.6,494.6 L819.9,494.6 L820.2,494.6 L820.5,494.6 L820.8,494.6 L821.1,494.6 L821.4,494.6 L821.7,494.6 L822.0,494.6 L822.3,494.6 L822.6,494.6 L822.9,494.6 L823.2,494.6 L823.5,494.6 L823.8,494.6 L824.1,494.6 L824.4,494.6 L824.7,494.6 L825.0,494.6 L825.3,494.6 L825.6,494.6 L825.9,494.6 L826.2,494.6 L826.5,494.6 L826.8,494.6 L827.1,494.6 L827.4,494.6 L827.7,494.6 L828.0,494.6 L828.3,494.6 L828.6,494.6 L828.9,494.6 L829.2,494.6 L829.5,494.6 L829.8,494.6 L830.1,494.6 L830.4,494.6 L830.7,494.6 L831.0,494.6 L831.3,494.6 L831.6,494.6 L831.9,494.6 L832.2,494.6 L832.5,494.6 L832.8,494.6 L833.1,494.6 L833.4,494.6 L833.7,494.6 L834.0,494.6 L834.3,494.6 L834.6,494.6 L834.9,494.6 L835.2,494.6 L835.5,494.6 L835.8,494.6 L836.1,494.6 L836.4,494.6 L836.7,494.6 L837.0,494.6 L837.3,494.6 L837.6,494.6 L837.9,494.6 L838.2,494.6 L838.5,494.6 L838.8,494.6 L839.1,494.6 L839.4,494.6 L839.7,494.6 L840.0,494.6 L840.3,494.6 L840.6,494.6 L840.9,494.6 L841.2,494.6 L841.5,494.5 L841.8,494.5 L842.1,494.5 L842.4,494.5 L842.7,494.5 L843.0,494.5 L843.3,494.4 L843.6,494.4 L843.9,494.4 L844.2,494.4 L844.5,494.3 L844.8,494.3 L845.1,494.2 L845.4,494.2 L845.7,494.1 L846.0,494.1 L846.3,494.0 L846.6,493.9 L846.9,493.8 L847.2,493.8 L847.5,493.7 L847.8,493.6 L848.1,493.5 L848.4,493.3 L848.7,493.2 L849.0,493.1 L849.3,493.0 L849.6,492.8 L849.9,492.7 L850.2,492.5 L850.5,492.4 L850.8,492.2 L851.1,492.1 L851.4,491.9 L851.7,491.8 L852.0,491.6 L852.3,491.5 L852.6,491.4 L852.9,491.2 L853.2,491.1 L853.5,491.0 L853.8,490.9 L854.1,490.8 L854.4,490.7 L854.7,490.6 L855.0,490.6 L855.3,490.5 L855.6,490.5 L855.9,490.5 L856.0,490.5 L856.2,490.5 L856.5,490.5 L856.8,490.6 L857.1,490.6 L857.4,490.7 L857.7,490.7 L858.0,490.8 L858.3,490.9 L858.6,491.0 L858.9,491.1 L859.2,491.3 L859.5,491.4 L859.8,491.5 L860.1,491.7 L860.4,491.8 L860.7,492.0 L861.0,492.1 L861.3,492.3 L861.6,492.4 L861.9,492.6 L862.2,492.7 L862.5,492.9 L862.8,493.0 L863.1,493.1 L863.4,492.5 L863.7,491.4 L864.0,489.7 L864.3,487.3 L864.6,483.9 L864.9,479.1 L865.2,472.6 L865.5,464.1 L865.8,453.1 L866.1,439.2 L866.4,422.5 L866.7,402.9 L867.0,380.9 L867.3,357.6 L867.6,334.5 L867.9,314.1 L868.2,300.4 L868.3,298.6 L868.5,303.9 L868.8,320.4 L869.1,342.0 L869.4,365.4 L869.7,388.5 L870.0,409.7 L870.3,428.4 L870.6,444.2 L870.9,457.0 L871.2,467.2 L871.5,475.0 L871.8,480.9 L872.1,485.1 L872.4,488.2 L872.7,490.4 L873.0,491.8 L873.3,492.8 L873.6,493.5 L873.9,493.9 L874.2,494.2 L874.5,494.3 L874.8,494.4 L875.1,494.5 L875.4,494.5 L875.7,494.6 L876.0,494.6 L876.3,494.6 L876.6,494.6 L876.9,494.6 L877.2,494.6 L877.5,494.6" fill="none" stroke="#3044b0" stroke-width="2.3" stroke-linejoin="round"/>
<g fill="#282680" stroke="#111" stroke-width="1.35"><circle cx="439.0" cy="403.0" r="4.8"/><circle cx="435.0" cy="408.5" r="4.8"/><circle cx="441.0" cy="411.0" r="4.8"/><circle cx="436.0" cy="415.0" r="4.8"/><circle cx="444.0" cy="418.0" r="4.8"/><circle cx="164.0" cy="375.0" r="3.6"/><circle cx="152.1" cy="391.0" r="3.6"/><circle cx="157.8" cy="388.8" r="3.6"/><circle cx="154.4" cy="395.9" r="3.6"/><circle cx="166.6" cy="395.0" r="3.6"/><circle cx="177.9" cy="405.7" r="3.6"/><circle cx="162.0" cy="410.3" r="3.6"/><circle cx="132.6" cy="404.3" r="5.9"/><circle cx="137.7" cy="413.4" r="5.3"/><circle cx="127.8" cy="414.8" r="4.8"/><circle cx="125.0" cy="419.3" r="4.3"/><circle cx="144.2" cy="414.8" r="4.5"/><circle cx="147.0" cy="417.6" r="3.9"/><circle cx="128.7" cy="429.6" r="5.3"/><circle cx="132.3" cy="437.5" r="3.4"/><circle cx="137.7" cy="420.0" r="4.3"/><circle cx="133.0" cy="410.0" r="5.3"/><circle cx="141.0" cy="410.0" r="4.3"/><circle cx="71.2" cy="457.0" r="2.4"/><circle cx="93.9" cy="448.4" r="2.4"/><circle cx="104.5" cy="445.5" r="2.9"/><circle cx="105.7" cy="451.0" r="2.9"/><circle cx="97.6" cy="455.2" r="3.9"/><circle cx="93.1" cy="471.0" r="5.9"/><circle cx="74.6" cy="471.0" r="3.9"/><circle cx="77.6" cy="472.5" r="3.9"/><circle cx="102.0" cy="479.2" r="5.3"/><circle cx="107.2" cy="480.7" r="4.3"/><circle cx="110.1" cy="482.2" r="3.9"/><circle cx="104.2" cy="485.1" r="4.3"/><circle cx="87.2" cy="477.0" r="3.4"/><circle cx="138.0" cy="457.0" r="3.4"/><circle cx="89.8" cy="489.1" r="4.4"/><circle cx="80.5" cy="478.5" r="3.7"/><circle cx="75.9" cy="486.2" r="4.0"/><circle cx="92.3" cy="494.0" r="3.5"/><circle cx="95.5" cy="485.5" r="3.1"/><circle cx="73.5" cy="489.5" r="5.1"/><circle cx="78.1" cy="488.8" r="3.5"/><circle cx="89.2" cy="485.3" r="4.3"/><circle cx="89.5" cy="493.2" r="5.0"/><circle cx="91.3" cy="494.4" r="4.1"/><circle cx="91.6" cy="481.0" r="3.5"/><circle cx="90.7" cy="482.4" r="3.1"/><circle cx="92.4" cy="487.2" r="4.0"/><circle cx="82.6" cy="490.9" r="3.8"/><circle cx="79.6" cy="496.2" r="3.1"/><circle cx="84.1" cy="476.9" r="3.3"/><circle cx="93.1" cy="482.9" r="4.9"/><circle cx="82.2" cy="493.5" r="3.9"/><circle cx="93.2" cy="486.9" r="3.8"/><circle cx="78.3" cy="489.5" r="3.2"/><circle cx="92.8" cy="493.0" r="3.7"/><circle cx="89.5" cy="484.8" r="3.6"/><circle cx="78.8" cy="486.7" r="3.8"/><circle cx="94.9" cy="484.2" r="4.7"/><circle cx="76.2" cy="479.3" r="5.0"/><circle cx="74.3" cy="484.2" r="3.2"/><circle cx="83.1" cy="479.7" r="4.6"/><circle cx="80.0" cy="482.4" r="3.2"/><circle cx="87.8" cy="485.3" r="4.0"/><circle cx="121.2" cy="462.9" r="4.3"/><circle cx="125.7" cy="467.4" r="4.8"/><circle cx="133.8" cy="467.8" r="4.8"/><circle cx="141.2" cy="467.4" r="2.9"/><circle cx="148.2" cy="469.6" r="2.9"/><circle cx="146.4" cy="472.5" r="2.4"/><circle cx="118.3" cy="471.0" r="2.6"/><circle cx="123.0" cy="466.0" r="4.3"/><circle cx="121.2" cy="478.5" r="4.3"/><circle cx="128.6" cy="481.4" r="5.5"/><circle cx="138.3" cy="482.2" r="5.5"/><circle cx="130.1" cy="485.1" r="4.8"/><circle cx="122.0" cy="487.3" r="4.3"/><circle cx="125.0" cy="483.0" r="4.8"/><circle cx="163.4" cy="485.9" r="5.3"/><circle cx="167.1" cy="482.9" r="4.8"/><circle cx="161.2" cy="490.3" r="4.3"/><circle cx="163.4" cy="494.0" r="4.3"/><circle cx="172.3" cy="476.2" r="2.9"/><circle cx="175.3" cy="479.2" r="3.9"/><circle cx="184.1" cy="460.0" r="4.8"/><circle cx="192.0" cy="457.0" r="4.8"/><circle cx="180.5" cy="489.0" r="4.2"/><circle cx="184.5" cy="483.2" r="4.1"/><circle cx="180.8" cy="491.8" r="3.9"/><circle cx="183.0" cy="487.8" r="3.7"/><circle cx="184.9" cy="479.7" r="3.7"/><circle cx="186.2" cy="477.9" r="4.0"/><circle cx="183.4" cy="487.7" r="3.6"/><circle cx="181.2" cy="486.8" r="3.8"/><circle cx="181.8" cy="492.3" r="4.4"/><circle cx="211.3" cy="449.6" r="4.3"/><circle cx="230.5" cy="446.3" r="4.3"/><circle cx="239.4" cy="455.1" r="3.4"/><circle cx="255.7" cy="444.7" r="3.4"/><circle cx="204.6" cy="464.4" r="4.3"/><circle cx="220.1" cy="460.7" r="4.8"/><circle cx="215.0" cy="473.0" r="4.0"/><circle cx="195.6" cy="480.7" r="3.9"/><circle cx="230.6" cy="484.8" r="4.7"/><circle cx="231.0" cy="489.1" r="4.3"/><circle cx="224.7" cy="477.1" r="3.9"/><circle cx="215.2" cy="490.9" r="4.1"/><circle cx="243.3" cy="478.3" r="4.6"/><circle cx="220.7" cy="482.3" r="4.4"/><circle cx="232.5" cy="476.1" r="4.2"/><circle cx="235.0" cy="482.0" r="4.7"/><circle cx="228.5" cy="470.5" r="4.7"/><circle cx="215.1" cy="486.6" r="3.7"/><circle cx="188.8" cy="480.4" r="4.7"/><circle cx="210.5" cy="470.9" r="4.5"/><circle cx="192.1" cy="484.8" r="3.6"/><circle cx="218.1" cy="475.4" r="4.6"/><circle cx="204.2" cy="475.9" r="3.7"/><circle cx="214.7" cy="493.2" r="4.4"/><circle cx="221.5" cy="484.4" r="4.2"/><circle cx="197.7" cy="477.7" r="3.8"/><circle cx="212.4" cy="481.2" r="3.9"/><circle cx="184.6" cy="485.4" r="4.3"/><circle cx="231.4" cy="475.6" r="3.8"/><circle cx="215.6" cy="495.7" r="4.4"/><circle cx="213.3" cy="483.9" r="4.1"/><circle cx="205.5" cy="473.9" r="3.8"/><circle cx="199.7" cy="470.3" r="3.8"/><circle cx="233.2" cy="483.7" r="4.0"/><circle cx="209.1" cy="476.3" r="4.5"/><circle cx="213.4" cy="472.1" r="3.8"/><circle cx="232.5" cy="480.5" r="4.5"/><circle cx="216.8" cy="488.5" r="4.5"/><circle cx="252.3" cy="479.0" r="4.0"/><circle cx="249.3" cy="483.7" r="4.9"/><circle cx="248.0" cy="481.1" r="4.9"/><circle cx="246.7" cy="479.5" r="4.3"/><circle cx="261.8" cy="459.6" r="4.9"/><circle cx="260.3" cy="451.8" r="4.9"/><circle cx="256.3" cy="464.4" r="4.2"/><circle cx="251.4" cy="472.2" r="3.8"/><circle cx="249.9" cy="485.1" r="4.0"/><circle cx="260.4" cy="452.6" r="4.7"/><circle cx="258.9" cy="454.2" r="4.3"/><circle cx="253.5" cy="472.5" r="4.2"/><circle cx="258.7" cy="455.7" r="4.7"/><circle cx="256.6" cy="456.1" r="3.9"/><circle cx="259.8" cy="458.9" r="4.8"/><circle cx="250.6" cy="482.9" r="4.5"/><circle cx="251.0" cy="478.1" r="4.1"/><circle cx="247.0" cy="494.9" r="4.5"/><circle cx="259.4" cy="451.9" r="4.3"/><circle cx="262.9" cy="453.2" r="4.1"/><circle cx="252.9" cy="479.2" r="4.0"/><circle cx="259.7" cy="464.2" r="4.7"/><circle cx="255.1" cy="465.4" r="4.2"/><circle cx="257.0" cy="457.4" r="4.7"/><circle cx="248.4" cy="475.3" r="4.4"/><circle cx="252.9" cy="482.5" r="4.9"/><circle cx="248.7" cy="475.4" r="4.4"/><circle cx="257.2" cy="460.5" r="4.3"/><circle cx="256.6" cy="470.0" r="4.8"/><circle cx="255.3" cy="469.5" r="4.1"/><circle cx="254.6" cy="471.9" r="4.0"/><circle cx="249.0" cy="476.7" r="4.8"/><circle cx="254.6" cy="467.4" r="4.9"/><circle cx="246.6" cy="479.5" r="4.5"/><circle cx="253.4" cy="462.0" r="4.7"/><circle cx="254.1" cy="460.9" r="4.1"/><circle cx="240.7" cy="492.3" r="4.5"/><circle cx="253.5" cy="468.3" r="4.3"/><circle cx="244.9" cy="488.1" r="3.9"/><circle cx="249.4" cy="469.9" r="4.2"/><circle cx="241.1" cy="483.1" r="4.5"/><circle cx="248.7" cy="465.9" r="4.2"/><circle cx="249.0" cy="468.8" r="4.0"/><circle cx="252.1" cy="462.5" r="3.9"/><circle cx="246.1" cy="480.6" r="3.9"/><circle cx="243.2" cy="484.3" r="4.1"/><circle cx="246.2" cy="479.1" r="4.4"/><circle cx="245.1" cy="484.4" r="4.9"/><circle cx="244.4" cy="482.6" r="4.0"/><circle cx="241.5" cy="488.9" r="4.7"/><circle cx="247.5" cy="478.2" r="4.0"/><circle cx="240.4" cy="491.3" r="4.8"/><circle cx="241.8" cy="486.0" r="4.4"/><circle cx="241.4" cy="486.2" r="4.8"/><circle cx="241.6" cy="490.6" r="4.9"/><circle cx="260.6" cy="459.5" r="4.9"/><circle cx="266.0" cy="462.4" r="4.2"/><circle cx="276.5" cy="465.8" r="4.0"/><circle cx="272.7" cy="459.5" r="4.8"/><circle cx="273.4" cy="457.7" r="4.3"/><circle cx="267.9" cy="453.2" r="4.1"/><circle cx="273.9" cy="454.5" r="4.4"/><circle cx="271.5" cy="464.4" r="3.9"/><circle cx="270.2" cy="460.1" r="4.2"/><circle cx="266.7" cy="455.7" r="4.5"/><circle cx="266.7" cy="451.2" r="4.5"/><circle cx="266.8" cy="460.5" r="4.7"/><circle cx="266.0" cy="456.7" r="3.9"/><circle cx="260.3" cy="448.5" r="4.3"/><circle cx="266.5" cy="459.2" r="3.9"/><circle cx="273.7" cy="460.2" r="3.9"/><circle cx="267.6" cy="463.0" r="4.0"/><circle cx="276.9" cy="464.2" r="4.7"/><circle cx="263.6" cy="454.0" r="4.9"/><circle cx="275.1" cy="465.5" r="4.9"/><circle cx="258.8" cy="455.8" r="4.0"/><circle cx="275.1" cy="465.6" r="4.0"/><circle cx="269.6" cy="454.0" r="4.1"/><circle cx="268.0" cy="468.0" r="4.0"/><circle cx="264.3" cy="473.3" r="4.8"/><circle cx="263.9" cy="466.6" r="4.4"/><circle cx="270.3" cy="478.9" r="4.4"/><circle cx="271.2" cy="469.3" r="4.9"/><circle cx="270.3" cy="478.0" r="4.1"/><circle cx="277.1" cy="475.3" r="4.7"/><circle cx="266.4" cy="476.0" r="3.9"/><circle cx="273.1" cy="477.4" r="4.9"/><circle cx="270.5" cy="471.9" r="3.8"/><circle cx="259.3" cy="471.6" r="4.3"/><circle cx="270.1" cy="469.2" r="4.1"/><circle cx="269.4" cy="468.6" r="4.2"/><circle cx="261.3" cy="467.4" r="4.5"/><circle cx="291.6" cy="478.4" r="4.5"/><circle cx="292.0" cy="482.9" r="4.9"/><circle cx="300.3" cy="487.8" r="3.9"/><circle cx="286.7" cy="471.3" r="4.7"/><circle cx="290.8" cy="486.5" r="3.8"/><circle cx="289.9" cy="473.1" r="4.2"/><circle cx="291.1" cy="474.1" r="4.9"/><circle cx="298.9" cy="474.6" r="4.8"/><circle cx="315.4" cy="485.0" r="4.3"/><circle cx="300.4" cy="485.6" r="4.7"/><circle cx="316.3" cy="482.9" r="4.9"/><circle cx="306.2" cy="487.2" r="4.5"/><circle cx="282.4" cy="481.5" r="4.7"/><circle cx="305.6" cy="489.4" r="4.1"/><circle cx="319.8" cy="486.2" r="4.7"/><circle cx="299.6" cy="480.8" r="4.8"/><circle cx="299.5" cy="471.8" r="4.6"/><circle cx="290.0" cy="484.1" r="3.9"/><circle cx="300.5" cy="484.9" r="4.2"/><circle cx="300.0" cy="469.5" r="4.8"/><circle cx="297.3" cy="474.5" r="4.4"/><circle cx="282.0" cy="487.2" r="4.4"/><circle cx="298.3" cy="494.0" r="4.9"/><circle cx="304.2" cy="495.8" r="3.8"/><circle cx="299.3" cy="489.3" r="4.6"/><circle cx="317.9" cy="477.6" r="4.2"/><circle cx="309.2" cy="476.1" r="4.1"/><circle cx="314.6" cy="475.5" r="4.6"/><circle cx="288.9" cy="469.2" r="4.3"/><circle cx="309.8" cy="471.4" r="4.8"/><circle cx="282.7" cy="486.9" r="4.5"/><circle cx="296.4" cy="488.5" r="4.5"/><circle cx="318.5" cy="488.7" r="4.0"/><circle cx="307.1" cy="482.8" r="4.9"/><circle cx="295.3" cy="486.7" r="3.8"/><circle cx="317.7" cy="485.2" r="4.5"/><circle cx="293.8" cy="469.8" r="3.9"/><circle cx="288.8" cy="477.1" r="4.7"/><circle cx="308.8" cy="469.2" r="3.9"/><circle cx="314.2" cy="471.4" r="4.9"/><circle cx="307.8" cy="486.2" r="3.9"/><circle cx="319.8" cy="485.0" r="4.7"/><circle cx="286.7" cy="471.8" r="4.5"/><circle cx="298.4" cy="486.6" r="3.9"/><circle cx="300.5" cy="475.2" r="4.2"/><circle cx="297.2" cy="483.0" r="4.1"/><circle cx="296.2" cy="494.4" r="4.2"/><circle cx="290.7" cy="495.3" r="4.4"/><circle cx="310.3" cy="472.5" r="3.8"/><circle cx="287.6" cy="487.2" r="4.7"/><circle cx="289.4" cy="492.3" r="4.4"/><circle cx="304.3" cy="495.6" r="3.9"/><circle cx="303.9" cy="476.4" r="3.8"/><circle cx="305.7" cy="494.5" r="4.9"/><circle cx="315.4" cy="482.3" r="4.4"/><circle cx="302.7" cy="475.8" r="4.4"/><circle cx="288.5" cy="493.2" r="4.1"/><circle cx="311.0" cy="479.2" r="4.1"/><circle cx="295.2" cy="471.9" r="3.9"/><circle cx="295.9" cy="478.8" r="4.7"/><circle cx="293.6" cy="469.4" r="4.5"/><circle cx="291.4" cy="489.5" r="4.3"/><circle cx="305.0" cy="479.2" r="4.8"/><circle cx="309.9" cy="483.1" r="4.1"/><circle cx="312.7" cy="475.8" r="4.2"/><circle cx="307.9" cy="477.2" r="4.3"/><circle cx="281.3" cy="479.4" r="4.7"/><circle cx="292.1" cy="475.0" r="4.2"/><circle cx="311.3" cy="493.4" r="4.6"/><circle cx="299.5" cy="475.8" r="4.3"/><circle cx="302.5" cy="470.7" r="4.0"/><circle cx="279.9" cy="485.3" r="4.1"/><circle cx="304.3" cy="489.7" r="4.6"/><circle cx="304.8" cy="477.1" r="4.0"/><circle cx="300.2" cy="490.6" r="4.4"/><circle cx="306.7" cy="489.3" r="4.0"/><circle cx="318.6" cy="480.0" r="3.9"/><circle cx="306.8" cy="480.9" r="4.2"/><circle cx="319.5" cy="480.6" r="4.6"/><circle cx="323.5" cy="488.1" r="4.5"/><circle cx="335.7" cy="489.4" r="4.2"/><circle cx="339.9" cy="487.6" r="4.7"/><circle cx="326.1" cy="478.0" r="4.5"/><circle cx="324.1" cy="487.0" r="4.5"/><circle cx="318.6" cy="491.8" r="4.8"/><circle cx="319.0" cy="489.9" r="4.6"/><circle cx="323.3" cy="488.7" r="4.6"/><circle cx="340.3" cy="478.8" r="4.6"/><circle cx="337.9" cy="478.1" r="4.5"/><circle cx="321.4" cy="487.9" r="4.5"/><circle cx="338.5" cy="490.5" r="4.7"/><circle cx="327.1" cy="476.7" r="4.1"/><circle cx="320.4" cy="489.7" r="4.5"/><circle cx="318.9" cy="491.3" r="4.9"/><circle cx="335.3" cy="494.9" r="4.7"/><circle cx="321.4" cy="491.4" r="4.9"/><circle cx="341.5" cy="488.1" r="4.0"/><circle cx="333.1" cy="474.6" r="4.4"/><circle cx="339.8" cy="491.4" r="4.4"/><circle cx="327.7" cy="477.6" r="4.5"/><circle cx="335.5" cy="478.4" r="4.3"/><circle cx="336.9" cy="484.2" r="4.6"/><circle cx="319.1" cy="492.6" r="4.0"/><circle cx="339.5" cy="485.3" r="3.9"/><circle cx="328.5" cy="493.5" r="3.8"/><circle cx="321.0" cy="489.8" r="4.6"/><circle cx="325.1" cy="491.0" r="4.1"/><circle cx="329.2" cy="474.4" r="4.4"/><circle cx="332.8" cy="496.5" r="4.3"/><circle cx="331.4" cy="490.2" r="4.7"/><circle cx="334.7" cy="477.1" r="4.3"/><circle cx="323.0" cy="483.8" r="4.9"/><circle cx="322.3" cy="493.6" r="4.7"/><circle cx="334.4" cy="478.5" r="4.1"/><circle cx="324.6" cy="484.7" r="4.7"/><circle cx="321.0" cy="494.8" r="4.1"/><circle cx="324.3" cy="490.2" r="4.3"/><circle cx="330.3" cy="486.6" r="4.6"/><circle cx="328.5" cy="491.8" r="4.2"/><circle cx="319.6" cy="487.0" r="4.5"/><circle cx="324.8" cy="479.9" r="4.9"/><circle cx="332.3" cy="483.7" r="4.7"/><circle cx="267.9" cy="464.0" r="3.7"/><circle cx="265.1" cy="462.4" r="3.5"/><circle cx="269.8" cy="468.6" r="4.1"/><circle cx="262.0" cy="470.5" r="3.7"/><circle cx="262.7" cy="475.0" r="3.9"/><circle cx="266.4" cy="474.2" r="4.3"/><circle cx="328.3" cy="401.3" r="5.3"/><circle cx="355.6" cy="423.9" r="4.3"/><circle cx="333.3" cy="431.5" r="4.8"/><circle cx="313.6" cy="435.2" r="4.3"/><circle cx="348.4" cy="434.3" r="4.8"/><circle cx="353.1" cy="439.0" r="4.8"/><circle cx="377.2" cy="431.8" r="3.4"/><circle cx="389.3" cy="427.1" r="3.4"/><circle cx="384.2" cy="445.6" r="2.4"/><circle cx="364.4" cy="450.3" r="4.8"/><circle cx="362.5" cy="456.0" r="4.8"/><circle cx="346.0" cy="452.0" r="4.8"/><circle cx="352.0" cy="455.0" r="4.8"/><circle cx="330.0" cy="443.0" r="4.8"/><circle cx="326.0" cy="447.0" r="4.8"/><circle cx="344.0" cy="440.0" r="4.8"/><circle cx="255.7" cy="445.0" r="3.4"/><circle cx="403.0" cy="452.2" r="4.8"/><circle cx="407.8" cy="451.2" r="4.8"/><circle cx="389.9" cy="470.1" r="3.4"/><circle cx="395.5" cy="472.9" r="3.4"/><circle cx="391.3" cy="470.0" r="3.4"/><circle cx="356.7" cy="481.5" r="4.5"/><circle cx="353.6" cy="458.8" r="4.8"/><circle cx="354.2" cy="457.5" r="4.0"/><circle cx="349.4" cy="460.5" r="4.6"/><circle cx="343.3" cy="475.0" r="4.4"/><circle cx="351.6" cy="476.7" r="4.0"/><circle cx="349.6" cy="470.1" r="4.3"/><circle cx="356.3" cy="477.7" r="4.4"/><circle cx="343.0" cy="466.8" r="3.8"/><circle cx="355.7" cy="461.9" r="4.4"/><circle cx="347.3" cy="458.9" r="4.2"/><circle cx="343.4" cy="476.7" r="3.9"/><circle cx="346.8" cy="461.5" r="3.8"/><circle cx="345.6" cy="462.6" r="4.9"/><circle cx="347.2" cy="482.1" r="4.4"/><circle cx="342.6" cy="471.3" r="3.9"/><circle cx="350.4" cy="459.2" r="4.2"/><circle cx="355.9" cy="463.5" r="4.3"/><circle cx="343.3" cy="468.0" r="4.0"/><circle cx="346.0" cy="473.6" r="4.4"/><circle cx="354.5" cy="463.3" r="4.7"/><circle cx="346.2" cy="475.7" r="4.1"/><circle cx="393.1" cy="495.2" r="4.4"/><circle cx="420.2" cy="486.5" r="4.0"/><circle cx="373.4" cy="489.9" r="4.4"/><circle cx="419.5" cy="482.5" r="4.5"/><circle cx="429.1" cy="489.4" r="3.6"/><circle cx="373.5" cy="482.1" r="3.8"/><circle cx="432.5" cy="490.2" r="4.5"/><circle cx="420.0" cy="494.3" r="4.4"/><circle cx="403.6" cy="490.5" r="4.5"/><circle cx="401.6" cy="491.2" r="3.8"/><circle cx="408.4" cy="488.2" r="4.6"/><circle cx="354.6" cy="484.4" r="3.6"/><circle cx="418.6" cy="494.3" r="4.4"/><circle cx="380.0" cy="493.1" r="4.6"/><circle cx="398.4" cy="485.5" r="4.0"/><circle cx="385.1" cy="486.3" r="4.1"/><circle cx="406.0" cy="494.6" r="3.6"/><circle cx="398.9" cy="482.5" r="3.7"/><circle cx="422.0" cy="489.8" r="4.8"/><circle cx="387.4" cy="482.2" r="4.1"/><circle cx="401.2" cy="494.7" r="4.9"/><circle cx="390.2" cy="487.6" r="3.7"/><circle cx="406.2" cy="484.9" r="3.7"/><circle cx="346.5" cy="482.1" r="4.5"/><circle cx="356.6" cy="495.0" r="3.7"/><circle cx="427.6" cy="483.7" r="3.6"/><circle cx="413.3" cy="485.3" r="4.6"/><circle cx="362.8" cy="482.7" r="4.6"/><circle cx="412.8" cy="493.5" r="4.6"/><circle cx="353.0" cy="490.5" r="4.5"/><circle cx="388.8" cy="494.6" r="3.9"/><circle cx="436.6" cy="491.7" r="3.6"/><circle cx="346.4" cy="490.8" r="4.7"/><circle cx="352.6" cy="486.2" r="4.6"/><circle cx="360.8" cy="493.6" r="4.2"/><circle cx="350.7" cy="487.0" r="4.3"/><circle cx="386.7" cy="491.1" r="3.7"/><circle cx="420.7" cy="486.9" r="4.4"/><circle cx="404.8" cy="487.6" r="4.1"/><circle cx="419.7" cy="494.8" r="4.6"/><circle cx="398.8" cy="485.9" r="3.6"/><circle cx="437.5" cy="491.5" r="4.7"/><circle cx="376.5" cy="490.2" r="4.9"/><circle cx="424.0" cy="490.1" r="4.0"/><circle cx="385.7" cy="494.0" r="4.1"/><circle cx="410.1" cy="490.1" r="4.8"/><circle cx="421.7" cy="485.8" r="3.5"/><circle cx="370.0" cy="487.7" r="4.4"/><circle cx="422.5" cy="494.0" r="3.6"/><circle cx="424.2" cy="493.0" r="4.7"/><circle cx="399.3" cy="485.7" r="4.7"/><circle cx="421.7" cy="491.2" r="4.8"/><circle cx="378.0" cy="483.1" r="4.3"/><circle cx="420.8" cy="484.7" r="4.6"/><circle cx="433.5" cy="485.2" r="4.4"/><circle cx="409.4" cy="488.3" r="3.8"/><circle cx="369.2" cy="492.1" r="4.6"/><circle cx="388.7" cy="483.2" r="4.7"/><circle cx="418.4" cy="485.1" r="4.3"/><circle cx="430.2" cy="493.9" r="4.3"/><circle cx="390.3" cy="490.0" r="3.8"/><circle cx="363.3" cy="484.4" r="4.5"/><circle cx="379.5" cy="489.6" r="4.1"/><circle cx="394.1" cy="484.0" r="3.6"/><circle cx="439.7" cy="487.0" r="3.7"/><circle cx="405.1" cy="492.6" r="3.8"/><circle cx="401.7" cy="486.7" r="4.3"/><circle cx="347.0" cy="482.5" r="4.9"/><circle cx="427.3" cy="488.6" r="4.3"/><circle cx="369.9" cy="492.5" r="4.1"/><circle cx="434.9" cy="492.4" r="4.7"/><circle cx="436.5" cy="485.4" r="3.6"/><circle cx="364.1" cy="484.4" r="3.7"/><circle cx="349.8" cy="489.5" r="4.7"/><circle cx="388.5" cy="494.8" r="4.8"/><circle cx="351.1" cy="490.1" r="4.1"/><circle cx="356.4" cy="495.0" r="3.9"/><circle cx="398.6" cy="490.6" r="4.9"/><circle cx="408.6" cy="487.3" r="4.2"/><circle cx="360.2" cy="495.0" r="4.9"/><circle cx="366.1" cy="482.5" r="3.9"/><circle cx="378.4" cy="494.2" r="4.8"/><circle cx="424.5" cy="482.6" r="4.6"/><circle cx="412.4" cy="490.7" r="4.9"/><circle cx="350.3" cy="484.0" r="4.6"/><circle cx="434.2" cy="491.1" r="4.0"/><circle cx="409.8" cy="483.1" r="3.7"/><circle cx="403.1" cy="477.1" r="3.7"/><circle cx="407.0" cy="476.0" r="3.9"/><circle cx="398.6" cy="482.1" r="3.6"/><circle cx="412.9" cy="476.3" r="3.6"/><circle cx="418.2" cy="476.6" r="4.8"/><circle cx="416.7" cy="484.7" r="3.7"/><circle cx="406.2" cy="475.2" r="4.8"/><circle cx="416.1" cy="481.5" r="4.2"/><circle cx="403.5" cy="483.9" r="4.2"/><circle cx="410.7" cy="475.7" r="3.8"/><circle cx="396.4" cy="482.6" r="4.3"/><circle cx="398.6" cy="484.4" r="3.9"/><circle cx="405.3" cy="475.9" r="3.9"/><circle cx="416.0" cy="478.0" r="3.8"/><circle cx="407.3" cy="477.8" r="4.8"/><circle cx="397.9" cy="485.7" r="3.6"/><circle cx="417.4" cy="482.0" r="3.8"/><circle cx="414.4" cy="433.3" r="4.9"/><circle cx="420.0" cy="456.0" r="4.9"/><circle cx="425.7" cy="446.5" r="4.9"/><circle cx="429.4" cy="439.0" r="4.9"/><circle cx="410.6" cy="461.6" r="4.9"/><circle cx="406.8" cy="471.0" r="4.9"/><circle cx="414.4" cy="465.4" r="4.9"/><circle cx="421.9" cy="469.1" r="4.9"/><circle cx="427.6" cy="461.6" r="4.9"/><circle cx="418.0" cy="447.0" r="4.9"/><circle cx="432.0" cy="436.0" r="4.9"/><circle cx="424.0" cy="455.0" r="4.9"/><circle cx="416.0" cy="458.0" r="4.9"/><circle cx="446.6" cy="428.8" r="4.0"/><circle cx="444.7" cy="440.1" r="4.8"/><circle cx="430.3" cy="440.8" r="3.9"/><circle cx="457.4" cy="436.9" r="3.8"/><circle cx="461.0" cy="424.5" r="3.8"/><circle cx="462.9" cy="424.9" r="4.3"/><circle cx="465.0" cy="429.7" r="4.0"/><circle cx="435.9" cy="437.5" r="4.0"/><circle cx="428.7" cy="436.9" r="4.4"/><circle cx="437.5" cy="435.4" r="4.6"/><circle cx="462.2" cy="425.3" r="3.9"/><circle cx="458.1" cy="433.2" r="3.9"/><circle cx="461.2" cy="434.3" r="4.8"/><circle cx="446.2" cy="437.8" r="4.3"/><circle cx="463.5" cy="424.6" r="4.7"/><circle cx="441.4" cy="431.3" r="4.5"/><circle cx="427.3" cy="435.2" r="4.4"/><circle cx="433.1" cy="439.5" r="4.8"/><circle cx="441.7" cy="431.8" r="4.7"/><circle cx="431.2" cy="441.9" r="4.4"/><circle cx="449.2" cy="432.4" r="3.8"/><circle cx="467.4" cy="423.8" r="3.9"/><circle cx="439.1" cy="427.4" r="3.9"/><circle cx="455.8" cy="423.7" r="4.5"/><circle cx="451.9" cy="434.2" r="3.9"/><circle cx="465.3" cy="422.7" r="4.0"/><circle cx="448.2" cy="429.0" r="4.0"/><circle cx="442.9" cy="434.0" r="4.8"/><circle cx="433.6" cy="438.3" r="4.0"/><circle cx="464.4" cy="427.8" r="4.3"/><circle cx="463.2" cy="427.8" r="4.9"/><circle cx="459.7" cy="426.2" r="4.2"/><circle cx="491.2" cy="429.6" r="4.8"/><circle cx="507.3" cy="416.9" r="4.4"/><circle cx="514.0" cy="418.7" r="4.3"/><circle cx="497.3" cy="424.6" r="3.9"/><circle cx="489.1" cy="418.7" r="4.0"/><circle cx="513.8" cy="428.3" r="4.5"/><circle cx="507.2" cy="428.5" r="3.9"/><circle cx="497.2" cy="426.6" r="4.1"/><circle cx="495.6" cy="426.4" r="4.1"/><circle cx="492.6" cy="431.2" r="4.1"/><circle cx="484.1" cy="420.9" r="4.5"/><circle cx="512.1" cy="419.0" r="4.3"/><circle cx="492.0" cy="419.5" r="4.0"/><circle cx="482.5" cy="423.3" r="4.1"/><circle cx="474.1" cy="432.2" r="4.5"/><circle cx="495.7" cy="420.4" r="4.6"/><circle cx="490.5" cy="426.8" r="4.3"/><circle cx="482.6" cy="422.2" r="4.4"/><circle cx="487.2" cy="418.9" r="4.2"/><circle cx="506.8" cy="423.6" r="4.4"/><circle cx="484.6" cy="423.4" r="4.7"/><circle cx="475.2" cy="432.2" r="4.3"/><circle cx="472.3" cy="426.8" r="4.6"/><circle cx="473.7" cy="433.8" r="4.6"/><circle cx="476.1" cy="425.0" r="4.6"/><circle cx="498.6" cy="428.8" r="4.4"/><circle cx="503.5" cy="427.2" r="4.3"/><circle cx="505.4" cy="429.1" r="4.0"/><circle cx="506.2" cy="426.5" r="4.5"/><circle cx="493.9" cy="426.0" r="4.3"/><circle cx="506.0" cy="424.8" r="4.2"/><circle cx="489.7" cy="428.4" r="4.1"/><circle cx="487.4" cy="424.0" r="4.2"/><circle cx="506.1" cy="423.3" r="4.3"/><circle cx="477.3" cy="421.9" r="4.5"/><circle cx="493.9" cy="430.4" r="4.2"/><circle cx="434.0" cy="437.9" r="4.9"/><circle cx="432.1" cy="454.5" r="4.8"/><circle cx="432.3" cy="447.2" r="4.4"/><circle cx="425.2" cy="447.2" r="4.7"/><circle cx="425.2" cy="444.1" r="4.4"/><circle cx="426.1" cy="445.9" r="4.2"/><circle cx="428.1" cy="454.2" r="4.2"/><circle cx="435.7" cy="443.8" r="4.4"/><circle cx="434.0" cy="451.3" r="4.3"/><circle cx="426.8" cy="443.6" r="4.8"/><circle cx="483.1" cy="414.5" r="4.8"/><circle cx="504.8" cy="415.4" r="4.8"/><circle cx="514.2" cy="418.3" r="4.8"/><circle cx="521.8" cy="424.9" r="4.8"/><circle cx="483.8" cy="414.2" r="4.8"/><circle cx="505.0" cy="416.2" r="4.8"/><circle cx="514.1" cy="417.6" r="4.8"/><circle cx="520.6" cy="424.7" r="4.8"/><circle cx="440.0" cy="436.0" r="4.8"/><circle cx="432.0" cy="442.0" r="4.8"/><circle cx="428.0" cy="450.0" r="4.8"/><circle cx="434.0" cy="458.0" r="4.8"/><circle cx="494.0" cy="396.0" r="4.8"/><circle cx="549.0" cy="391.0" r="3.9"/><circle cx="549.0" cy="403.2" r="2.4"/><circle cx="555.7" cy="428.6" r="3.4"/><circle cx="457.3" cy="440.0" r="4.3"/><circle cx="507.6" cy="446.5" r="4.8"/><circle cx="507.6" cy="454.0" r="4.8"/><circle cx="520.8" cy="454.0" r="4.8"/><circle cx="523.6" cy="459.7" r="4.8"/><circle cx="474.6" cy="448.4" r="4.8"/><circle cx="470.9" cy="452.2" r="4.8"/><circle cx="484.0" cy="456.0" r="4.8"/><circle cx="479.9" cy="460.2" r="4.3"/><circle cx="453.6" cy="457.5" r="4.2"/><circle cx="450.1" cy="460.1" r="4.0"/><circle cx="459.2" cy="465.5" r="4.7"/><circle cx="460.7" cy="460.9" r="4.8"/><circle cx="460.7" cy="456.8" r="4.9"/><circle cx="476.4" cy="458.9" r="4.0"/><circle cx="463.6" cy="464.5" r="4.4"/><circle cx="470.1" cy="463.0" r="4.5"/><circle cx="458.0" cy="459.2" r="4.9"/><circle cx="464.4" cy="460.2" r="4.3"/><circle cx="469.5" cy="458.3" r="4.6"/><circle cx="477.5" cy="461.1" r="4.8"/><circle cx="453.7" cy="458.9" r="4.0"/><circle cx="452.9" cy="461.0" r="4.1"/><circle cx="458.6" cy="458.1" r="4.9"/><circle cx="456.1" cy="459.6" r="3.9"/><circle cx="476.2" cy="464.6" r="3.9"/><circle cx="473.3" cy="462.2" r="4.4"/><circle cx="473.6" cy="457.5" r="4.7"/><circle cx="469.0" cy="461.2" r="4.7"/><circle cx="459.9" cy="464.8" r="4.2"/><circle cx="454.0" cy="480.4" r="4.8"/><circle cx="450.0" cy="484.2" r="4.8"/><circle cx="423.8" cy="463.5" r="4.8"/><circle cx="427.5" cy="471.0" r="4.8"/><circle cx="433.2" cy="472.9" r="4.8"/><circle cx="437.0" cy="484.2" r="4.8"/><circle cx="431.3" cy="489.9" r="4.8"/><circle cx="425.7" cy="495.5" r="4.8"/><circle cx="430.0" cy="478.0" r="4.8"/><circle cx="482.3" cy="485.6" r="3.7"/><circle cx="639.4" cy="489.9" r="4.0"/><circle cx="542.3" cy="487.2" r="3.6"/><circle cx="636.6" cy="489.9" r="4.9"/><circle cx="540.1" cy="490.4" r="3.9"/><circle cx="455.4" cy="494.6" r="4.7"/><circle cx="513.4" cy="494.1" r="4.7"/><circle cx="511.0" cy="490.1" r="4.9"/><circle cx="552.0" cy="494.8" r="3.9"/><circle cx="529.4" cy="491.7" r="3.8"/><circle cx="512.2" cy="493.8" r="4.2"/><circle cx="615.6" cy="485.3" r="3.8"/><circle cx="522.7" cy="484.5" r="4.9"/><circle cx="508.2" cy="489.6" r="3.7"/><circle cx="560.2" cy="487.2" r="4.1"/><circle cx="460.0" cy="483.7" r="4.7"/><circle cx="521.2" cy="485.3" r="3.8"/><circle cx="506.7" cy="485.2" r="3.6"/><circle cx="588.2" cy="486.6" r="3.8"/><circle cx="597.1" cy="483.3" r="3.9"/><circle cx="624.7" cy="483.7" r="4.2"/><circle cx="625.0" cy="492.9" r="3.8"/><circle cx="521.5" cy="491.8" r="4.1"/><circle cx="651.1" cy="484.8" r="4.9"/><circle cx="554.0" cy="485.1" r="4.2"/><circle cx="474.0" cy="491.5" r="3.9"/><circle cx="638.5" cy="489.9" r="4.0"/><circle cx="498.7" cy="490.2" r="3.8"/><circle cx="632.7" cy="483.7" r="4.3"/><circle cx="562.1" cy="485.7" r="4.6"/><circle cx="528.4" cy="490.9" r="4.3"/><circle cx="512.5" cy="487.3" r="3.7"/><circle cx="483.9" cy="493.5" r="4.0"/><circle cx="587.8" cy="483.5" r="4.3"/><circle cx="523.4" cy="488.8" r="3.9"/><circle cx="460.1" cy="486.2" r="3.9"/><circle cx="473.0" cy="491.7" r="3.9"/><circle cx="532.3" cy="494.3" r="4.6"/><circle cx="634.9" cy="493.6" r="3.7"/><circle cx="505.2" cy="482.4" r="4.5"/><circle cx="588.0" cy="486.7" r="4.1"/><circle cx="587.0" cy="491.4" r="3.9"/><circle cx="627.2" cy="486.8" r="4.4"/><circle cx="484.9" cy="483.6" r="4.8"/><circle cx="603.1" cy="491.6" r="3.6"/><circle cx="454.6" cy="484.2" r="3.8"/><circle cx="510.9" cy="487.1" r="3.6"/><circle cx="512.5" cy="490.6" r="3.8"/><circle cx="625.6" cy="489.7" r="4.5"/><circle cx="500.5" cy="487.9" r="4.5"/><circle cx="520.7" cy="482.0" r="4.7"/><circle cx="612.2" cy="485.9" r="3.6"/><circle cx="628.8" cy="490.2" r="3.6"/><circle cx="498.3" cy="483.5" r="4.6"/><circle cx="491.0" cy="494.3" r="4.6"/><circle cx="464.4" cy="491.4" r="4.1"/><circle cx="606.0" cy="493.2" r="3.9"/><circle cx="465.2" cy="494.8" r="4.1"/><circle cx="645.1" cy="491.3" r="4.6"/><circle cx="623.6" cy="490.5" r="4.2"/><circle cx="457.6" cy="491.4" r="4.1"/><circle cx="555.5" cy="494.5" r="3.7"/><circle cx="609.1" cy="482.6" r="4.5"/><circle cx="618.4" cy="485.5" r="4.3"/><circle cx="653.5" cy="490.6" r="4.3"/><circle cx="499.4" cy="482.8" r="4.0"/><circle cx="534.1" cy="484.7" r="4.0"/><circle cx="475.2" cy="491.5" r="4.5"/><circle cx="496.9" cy="485.3" r="4.3"/><circle cx="541.2" cy="494.6" r="4.0"/><circle cx="510.1" cy="493.9" r="3.7"/><circle cx="566.5" cy="486.5" r="4.7"/><circle cx="563.3" cy="492.3" r="3.8"/><circle cx="588.6" cy="490.1" r="4.2"/><circle cx="610.0" cy="493.2" r="3.7"/><circle cx="507.9" cy="486.9" r="3.8"/><circle cx="458.9" cy="485.8" r="3.8"/><circle cx="596.1" cy="488.0" r="3.7"/><circle cx="515.4" cy="488.3" r="4.0"/><circle cx="482.0" cy="483.0" r="3.6"/><circle cx="658.3" cy="492.1" r="3.7"/><circle cx="599.5" cy="495.2" r="4.3"/><circle cx="469.3" cy="488.6" r="4.1"/><circle cx="486.6" cy="489.3" r="3.5"/><circle cx="642.8" cy="490.7" r="4.4"/><circle cx="646.1" cy="490.8" r="3.9"/><circle cx="498.6" cy="483.9" r="3.6"/><circle cx="611.7" cy="493.3" r="3.9"/><circle cx="485.7" cy="490.6" r="4.7"/><circle cx="644.3" cy="484.3" r="4.6"/><circle cx="623.7" cy="492.0" r="4.0"/><circle cx="485.5" cy="493.1" r="4.0"/><circle cx="524.9" cy="489.4" r="4.1"/><circle cx="623.9" cy="485.2" r="3.6"/><circle cx="567.3" cy="490.5" r="4.7"/><circle cx="597.0" cy="494.2" r="4.9"/><circle cx="551.8" cy="488.7" r="3.8"/><circle cx="510.1" cy="489.8" r="3.6"/><circle cx="593.2" cy="484.2" r="4.2"/><circle cx="653.5" cy="483.2" r="3.6"/><circle cx="540.1" cy="484.6" r="4.5"/><circle cx="446.6" cy="493.4" r="4.7"/><circle cx="614.4" cy="487.7" r="3.9"/><circle cx="587.6" cy="488.9" r="4.1"/><circle cx="518.5" cy="487.9" r="4.5"/><circle cx="622.8" cy="494.2" r="3.8"/><circle cx="509.3" cy="488.0" r="4.3"/><circle cx="520.5" cy="484.6" r="3.7"/><circle cx="515.3" cy="488.2" r="4.9"/><circle cx="640.5" cy="493.7" r="4.9"/><circle cx="651.8" cy="490.4" r="4.7"/><circle cx="458.8" cy="491.1" r="4.4"/><circle cx="509.6" cy="489.7" r="4.9"/><circle cx="548.9" cy="490.7" r="4.0"/><circle cx="519.5" cy="493.9" r="3.6"/><circle cx="486.4" cy="491.2" r="4.2"/><circle cx="464.2" cy="490.9" r="4.1"/><circle cx="570.3" cy="487.6" r="4.3"/><circle cx="566.9" cy="487.4" r="3.7"/><circle cx="484.6" cy="494.0" r="4.3"/><circle cx="470.0" cy="493.6" r="3.9"/><circle cx="466.3" cy="489.2" r="3.9"/><circle cx="550.7" cy="489.5" r="3.9"/><circle cx="568.6" cy="483.5" r="4.3"/><circle cx="571.9" cy="483.1" r="4.1"/><circle cx="461.7" cy="487.9" r="4.7"/><circle cx="563.8" cy="491.6" r="4.6"/><circle cx="470.5" cy="495.4" r="4.5"/><circle cx="467.8" cy="493.2" r="4.1"/><circle cx="482.6" cy="495.0" r="4.3"/><circle cx="611.8" cy="483.8" r="4.6"/><circle cx="458.3" cy="485.2" r="4.1"/><circle cx="449.2" cy="490.0" r="3.8"/><circle cx="510.2" cy="491.6" r="4.1"/><circle cx="636.2" cy="490.4" r="4.8"/><circle cx="566.5" cy="494.4" r="4.7"/><circle cx="482.0" cy="492.1" r="4.0"/><circle cx="609.4" cy="491.2" r="4.7"/><circle cx="472.3" cy="487.0" r="4.6"/><circle cx="648.9" cy="491.7" r="3.6"/><circle cx="575.2" cy="483.3" r="4.3"/><circle cx="617.8" cy="483.5" r="4.8"/><circle cx="590.5" cy="485.4" r="3.8"/><circle cx="541.6" cy="493.3" r="4.3"/><circle cx="470.3" cy="482.3" r="3.7"/><circle cx="617.3" cy="484.5" r="4.3"/><circle cx="508.1" cy="491.3" r="4.1"/><circle cx="476.9" cy="493.8" r="4.3"/><circle cx="593.6" cy="492.9" r="4.9"/><circle cx="449.0" cy="486.6" r="3.7"/><circle cx="553.4" cy="493.8" r="4.7"/><circle cx="453.6" cy="484.5" r="4.7"/><circle cx="591.4" cy="487.3" r="4.2"/><circle cx="479.9" cy="493.4" r="4.1"/><circle cx="632.8" cy="490.2" r="3.6"/><circle cx="516.5" cy="484.9" r="4.8"/><circle cx="572.1" cy="482.6" r="3.8"/><circle cx="523.3" cy="488.3" r="4.3"/><circle cx="529.0" cy="486.8" r="3.5"/><circle cx="569.9" cy="486.5" r="3.6"/><circle cx="544.3" cy="495.3" r="3.6"/><circle cx="477.2" cy="491.1" r="3.9"/><circle cx="504.5" cy="488.8" r="3.9"/><circle cx="567.8" cy="489.1" r="4.9"/><circle cx="658.3" cy="482.5" r="4.3"/><circle cx="611.0" cy="493.8" r="4.6"/><circle cx="581.5" cy="490.6" r="4.0"/><circle cx="506.3" cy="492.7" r="4.8"/><circle cx="646.9" cy="491.2" r="4.0"/><circle cx="609.4" cy="492.0" r="4.2"/><circle cx="581.9" cy="486.7" r="4.3"/><circle cx="532.9" cy="482.8" r="4.0"/><circle cx="515.2" cy="495.3" r="4.2"/><circle cx="524.6" cy="485.3" r="3.9"/><circle cx="520.7" cy="483.8" r="3.5"/><circle cx="632.4" cy="488.1" r="4.2"/><circle cx="567.7" cy="486.1" r="3.8"/><circle cx="460.2" cy="486.1" r="4.0"/><circle cx="601.5" cy="489.4" r="4.8"/><circle cx="518.9" cy="494.4" r="4.3"/><circle cx="463.1" cy="484.4" r="4.3"/><circle cx="657.3" cy="486.8" r="4.6"/><circle cx="537.6" cy="493.7" r="3.6"/><circle cx="549.7" cy="494.1" r="3.9"/><circle cx="501.1" cy="482.3" r="3.8"/><circle cx="503.4" cy="491.5" r="3.8"/><circle cx="531.5" cy="484.7" r="4.4"/><circle cx="630.9" cy="490.7" r="3.8"/><circle cx="603.1" cy="495.0" r="4.4"/><circle cx="463.0" cy="492.9" r="4.8"/><circle cx="519.0" cy="483.8" r="3.8"/><circle cx="560.9" cy="493.8" r="4.4"/><circle cx="643.5" cy="484.9" r="4.0"/><circle cx="606.4" cy="490.8" r="4.1"/><circle cx="591.3" cy="486.6" r="3.6"/><circle cx="534.7" cy="482.6" r="4.4"/><circle cx="517.6" cy="488.7" r="4.4"/><circle cx="501.0" cy="488.3" r="3.6"/><circle cx="644.0" cy="489.6" r="4.9"/><circle cx="458.0" cy="490.3" r="4.5"/><circle cx="516.4" cy="483.3" r="3.8"/><circle cx="476.5" cy="492.4" r="3.7"/><circle cx="620.2" cy="487.7" r="4.3"/><circle cx="571.9" cy="489.5" r="4.5"/><circle cx="574.7" cy="486.5" r="4.6"/><circle cx="501.2" cy="491.6" r="4.6"/><circle cx="612.1" cy="486.2" r="4.6"/><circle cx="655.2" cy="488.1" r="3.9"/><circle cx="558.0" cy="494.7" r="3.7"/><circle cx="447.9" cy="488.4" r="4.4"/><circle cx="611.7" cy="486.9" r="4.9"/><circle cx="494.8" cy="492.2" r="3.7"/><circle cx="452.0" cy="483.8" r="3.6"/><circle cx="553.4" cy="489.5" r="3.8"/><circle cx="647.1" cy="486.9" r="3.7"/><circle cx="484.0" cy="492.0" r="4.8"/><circle cx="458.2" cy="470.5" r="4.6"/><circle cx="461.2" cy="485.7" r="4.2"/><circle cx="476.2" cy="475.5" r="4.7"/><circle cx="469.5" cy="475.2" r="4.8"/><circle cx="456.1" cy="481.7" r="3.6"/><circle cx="476.5" cy="476.4" r="4.7"/><circle cx="454.3" cy="479.0" r="4.1"/><circle cx="486.9" cy="485.1" r="4.4"/><circle cx="460.5" cy="474.0" r="3.9"/><circle cx="468.5" cy="473.7" r="3.8"/><circle cx="480.8" cy="480.3" r="4.0"/><circle cx="489.8" cy="473.5" r="4.3"/><circle cx="458.0" cy="483.8" r="4.7"/><circle cx="462.2" cy="482.0" r="4.7"/><circle cx="462.7" cy="475.3" r="4.2"/><circle cx="485.9" cy="472.6" r="4.5"/><circle cx="474.7" cy="477.2" r="4.3"/><circle cx="485.5" cy="473.4" r="4.8"/><circle cx="465.7" cy="482.5" r="4.7"/><circle cx="458.9" cy="483.8" r="4.9"/><circle cx="463.3" cy="470.4" r="3.7"/><circle cx="489.0" cy="470.2" r="4.8"/><circle cx="457.7" cy="481.8" r="3.7"/><circle cx="458.4" cy="480.9" r="3.7"/><circle cx="464.9" cy="484.7" r="4.5"/><circle cx="485.5" cy="485.7" r="3.6"/><circle cx="460.9" cy="482.7" r="4.5"/><circle cx="453.4" cy="478.1" r="3.9"/><circle cx="468.4" cy="471.7" r="3.6"/><circle cx="489.6" cy="475.1" r="4.8"/><circle cx="456.6" cy="477.8" r="3.7"/><circle cx="468.3" cy="472.9" r="4.5"/><circle cx="457.6" cy="481.8" r="4.2"/><circle cx="456.3" cy="475.7" r="4.2"/><circle cx="486.9" cy="475.6" r="3.8"/><circle cx="488.8" cy="484.1" r="4.6"/><circle cx="462.4" cy="472.8" r="3.9"/><circle cx="454.6" cy="470.7" r="4.2"/><circle cx="467.5" cy="478.9" r="4.0"/><circle cx="452.4" cy="481.0" r="4.4"/><circle cx="530.4" cy="477.9" r="4.5"/><circle cx="558.9" cy="483.7" r="4.5"/><circle cx="521.0" cy="473.7" r="4.1"/><circle cx="558.2" cy="475.0" r="4.1"/><circle cx="521.6" cy="470.6" r="4.9"/><circle cx="495.3" cy="478.9" r="4.8"/><circle cx="511.6" cy="479.0" r="4.1"/><circle cx="510.6" cy="471.6" r="3.7"/><circle cx="549.8" cy="482.1" r="4.8"/><circle cx="498.2" cy="480.5" r="4.0"/><circle cx="537.0" cy="477.9" r="4.0"/><circle cx="558.2" cy="468.0" r="4.6"/><circle cx="550.5" cy="477.2" r="4.4"/><circle cx="559.7" cy="472.2" r="4.4"/><circle cx="543.3" cy="474.8" r="4.5"/><circle cx="520.6" cy="477.5" r="4.4"/><circle cx="539.0" cy="473.8" r="4.4"/><circle cx="530.3" cy="472.0" r="4.4"/><circle cx="512.2" cy="484.4" r="4.2"/><circle cx="541.9" cy="477.4" r="4.2"/><circle cx="509.4" cy="470.6" r="4.8"/><circle cx="529.4" cy="477.4" r="4.3"/><circle cx="547.9" cy="472.3" r="3.8"/><circle cx="548.4" cy="476.3" r="4.4"/><circle cx="548.8" cy="484.1" r="4.7"/><circle cx="497.8" cy="474.9" r="4.7"/><circle cx="548.2" cy="470.2" r="3.7"/><circle cx="511.3" cy="469.9" r="4.0"/><circle cx="547.2" cy="477.4" r="4.2"/><circle cx="500.7" cy="475.1" r="4.9"/><circle cx="540.2" cy="476.1" r="4.2"/><circle cx="546.9" cy="481.7" r="3.7"/><circle cx="539.2" cy="474.6" r="4.3"/><circle cx="510.4" cy="474.7" r="4.0"/><circle cx="519.8" cy="468.3" r="3.8"/><circle cx="532.1" cy="469.0" r="3.8"/><circle cx="541.7" cy="472.9" r="4.0"/><circle cx="510.7" cy="483.0" r="3.7"/><circle cx="536.3" cy="483.5" r="3.8"/><circle cx="522.5" cy="482.3" r="4.4"/><circle cx="519.2" cy="468.8" r="4.2"/><circle cx="518.9" cy="480.8" r="3.9"/><circle cx="521.5" cy="479.7" r="4.7"/><circle cx="517.9" cy="474.9" r="4.3"/><circle cx="555.1" cy="471.4" r="4.9"/><circle cx="541.3" cy="474.7" r="4.5"/><circle cx="516.4" cy="469.3" r="4.6"/><circle cx="519.7" cy="477.5" r="4.2"/><circle cx="553.6" cy="481.6" r="3.6"/><circle cx="533.5" cy="476.3" r="4.2"/><circle cx="549.6" cy="475.5" r="4.2"/><circle cx="552.9" cy="475.9" r="4.2"/><circle cx="528.3" cy="482.8" r="4.5"/><circle cx="543.1" cy="475.2" r="3.6"/><circle cx="539.2" cy="478.0" r="4.6"/><circle cx="545.0" cy="470.1" r="3.8"/><circle cx="500.0" cy="482.7" r="3.7"/><circle cx="500.7" cy="481.6" r="4.3"/><circle cx="498.6" cy="480.3" r="4.5"/><circle cx="526.4" cy="469.0" r="4.5"/><circle cx="522.2" cy="478.5" r="4.9"/><circle cx="548.1" cy="483.7" r="3.7"/><circle cx="516.7" cy="477.3" r="3.5"/><circle cx="559.3" cy="472.9" r="3.9"/><circle cx="515.3" cy="472.6" r="4.7"/><circle cx="531.1" cy="477.2" r="4.1"/><circle cx="498.3" cy="473.5" r="4.7"/><circle cx="547.1" cy="483.4" r="3.9"/><circle cx="508.1" cy="468.9" r="4.3"/><circle cx="519.3" cy="476.4" r="4.2"/><circle cx="532.9" cy="474.6" r="4.7"/><circle cx="508.0" cy="484.5" r="4.3"/><circle cx="498.3" cy="473.7" r="4.3"/><circle cx="521.6" cy="478.2" r="4.0"/><circle cx="512.8" cy="482.3" r="3.9"/><circle cx="541.2" cy="482.4" r="4.4"/><circle cx="524.6" cy="484.8" r="4.2"/><circle cx="552.1" cy="469.0" r="4.1"/><circle cx="536.6" cy="468.9" r="4.7"/><circle cx="557.0" cy="456.7" r="4.0"/><circle cx="556.6" cy="447.1" r="4.7"/><circle cx="537.3" cy="452.1" r="4.6"/><circle cx="546.3" cy="458.2" r="4.7"/><circle cx="555.6" cy="462.6" r="4.0"/><circle cx="551.2" cy="454.6" r="4.7"/><circle cx="556.0" cy="449.3" r="4.5"/><circle cx="547.4" cy="465.3" r="4.6"/><circle cx="549.7" cy="454.8" r="4.6"/><circle cx="559.5" cy="455.3" r="4.1"/><circle cx="549.1" cy="462.6" r="4.2"/><circle cx="543.3" cy="450.0" r="4.8"/><circle cx="542.6" cy="463.5" r="4.0"/><circle cx="551.9" cy="438.8" r="4.3"/><circle cx="555.8" cy="453.8" r="4.5"/><circle cx="549.6" cy="462.2" r="3.9"/><circle cx="537.2" cy="454.6" r="4.3"/><circle cx="546.1" cy="447.7" r="4.7"/><circle cx="557.0" cy="461.3" r="4.9"/><circle cx="556.8" cy="448.2" r="4.1"/><circle cx="541.5" cy="461.9" r="4.4"/><circle cx="551.6" cy="450.2" r="4.4"/><circle cx="554.6" cy="443.8" r="4.4"/><circle cx="552.1" cy="454.8" r="4.1"/><circle cx="557.4" cy="444.0" r="4.1"/><circle cx="550.1" cy="450.9" r="4.5"/><circle cx="555.5" cy="450.3" r="4.9"/><circle cx="546.4" cy="449.4" r="4.2"/><circle cx="541.9" cy="454.2" r="4.6"/><circle cx="553.0" cy="463.2" r="4.1"/><circle cx="556.8" cy="456.4" r="3.9"/><circle cx="537.1" cy="448.0" r="4.5"/><circle cx="536.1" cy="352.6" r="5.0"/><circle cx="540.3" cy="354.0" r="5.0"/><circle cx="546.0" cy="354.9" r="5.0"/><circle cx="534.7" cy="361.1" r="5.0"/><circle cx="546.8" cy="367.6" r="5.0"/><circle cx="548.3" cy="389.1" r="5.0"/><circle cx="544.0" cy="337.6" r="5.0"/><circle cx="537.7" cy="353.4" r="5.0"/><circle cx="547.0" cy="368.3" r="5.0"/><circle cx="548.8" cy="403.5" r="2.4"/><circle cx="567.9" cy="422.4" r="4.8"/><circle cx="579.2" cy="430.5" r="2.9"/><circle cx="569.8" cy="433.3" r="3.4"/><circle cx="593.7" cy="445.0" r="4.3"/><circle cx="606.5" cy="448.8" r="4.8"/><circle cx="618.8" cy="444.1" r="2.9"/><circle cx="616.3" cy="419.2" r="2.9"/><circle cx="628.2" cy="449.9" r="4.8"/><circle cx="648.9" cy="448.8" r="4.8"/><circle cx="642.3" cy="458.8" r="2.9"/><circle cx="634.8" cy="459.7" r="2.9"/><circle cx="632.0" cy="432.4" r="4.3"/><circle cx="636.7" cy="431.5" r="4.3"/><circle cx="631.0" cy="437.1" r="4.3"/><circle cx="637.6" cy="438.0" r="4.3"/><circle cx="637.6" cy="444.6" r="4.3"/><circle cx="644.8" cy="425.8" r="2.9"/><circle cx="653.6" cy="395.7" r="4.3"/><circle cx="645.2" cy="403.6" r="3.9"/><circle cx="656.5" cy="408.3" r="3.9"/><circle cx="649.9" cy="412.6" r="3.9"/><circle cx="659.3" cy="419.2" r="3.4"/><circle cx="664.0" cy="418.6" r="3.4"/><circle cx="688.5" cy="408.8" r="3.9"/><circle cx="689.4" cy="421.0" r="3.9"/><circle cx="678.1" cy="438.6" r="5.5"/><circle cx="682.8" cy="456.0" r="4.3"/><circle cx="686.6" cy="460.7" r="4.3"/><circle cx="669.7" cy="462.5" r="4.3"/><circle cx="674.4" cy="464.4" r="4.3"/><circle cx="676.2" cy="471.0" r="4.3"/><circle cx="670.6" cy="474.8" r="4.3"/><circle cx="673.4" cy="484.2" r="4.3"/><circle cx="663.0" cy="481.4" r="3.4"/><circle cx="683.8" cy="486.1" r="4.3"/><circle cx="687.6" cy="489.9" r="4.3"/><circle cx="659.3" cy="494.6" r="1.9"/><circle cx="666.8" cy="493.6" r="1.9"/><circle cx="654.0" cy="396.4" r="4.3"/><circle cx="656.9" cy="407.7" r="3.9"/><circle cx="649.8" cy="448.7" r="4.8"/><circle cx="557.5" cy="437.1" r="4.9"/><circle cx="563.2" cy="439.0" r="4.9"/><circle cx="566.0" cy="446.5" r="4.9"/><circle cx="566.0" cy="456.9" r="4.9"/><circle cx="555.7" cy="446.5" r="4.9"/><circle cx="553.8" cy="456.0" r="4.9"/><circle cx="593.1" cy="463.8" r="4.3"/><circle cx="561.5" cy="477.9" r="3.7"/><circle cx="603.3" cy="471.1" r="4.1"/><circle cx="610.7" cy="466.8" r="3.8"/><circle cx="634.9" cy="470.6" r="4.9"/><circle cx="629.0" cy="474.0" r="3.8"/><circle cx="561.2" cy="483.2" r="3.7"/><circle cx="596.2" cy="475.3" r="3.7"/><circle cx="593.7" cy="466.8" r="4.4"/><circle cx="597.1" cy="471.4" r="3.8"/><circle cx="588.1" cy="467.7" r="3.7"/><circle cx="573.9" cy="483.0" r="4.3"/><circle cx="630.5" cy="463.3" r="5.0"/><circle cx="595.5" cy="481.2" r="4.4"/><circle cx="612.9" cy="468.3" r="4.7"/><circle cx="566.4" cy="469.1" r="3.6"/><circle cx="587.2" cy="474.9" r="4.0"/><circle cx="630.5" cy="464.9" r="4.4"/><circle cx="573.4" cy="476.7" r="4.8"/><circle cx="614.8" cy="464.4" r="3.9"/><circle cx="605.1" cy="485.6" r="3.6"/><circle cx="606.8" cy="478.9" r="4.8"/><circle cx="582.8" cy="481.6" r="4.3"/><circle cx="633.1" cy="463.2" r="5.0"/><circle cx="588.8" cy="472.4" r="3.7"/><circle cx="574.3" cy="479.9" r="4.6"/><circle cx="566.2" cy="470.9" r="3.8"/><circle cx="570.2" cy="468.1" r="4.1"/><circle cx="637.9" cy="485.9" r="4.8"/><circle cx="594.7" cy="474.4" r="4.8"/><circle cx="632.0" cy="480.3" r="4.5"/><circle cx="570.3" cy="477.4" r="4.9"/><circle cx="621.4" cy="465.1" r="4.7"/><circle cx="583.4" cy="466.7" r="5.1"/><circle cx="611.5" cy="480.1" r="3.7"/><circle cx="625.1" cy="484.6" r="5.0"/><circle cx="617.8" cy="482.1" r="4.8"/><circle cx="604.4" cy="473.0" r="4.8"/><circle cx="621.2" cy="483.0" r="4.0"/><circle cx="636.6" cy="475.2" r="5.0"/><circle cx="563.1" cy="485.3" r="4.8"/><circle cx="574.9" cy="482.3" r="3.9"/><circle cx="570.2" cy="473.5" r="3.9"/><circle cx="595.9" cy="483.9" r="4.6"/><circle cx="614.8" cy="472.0" r="4.8"/><circle cx="622.0" cy="478.7" r="5.0"/><circle cx="624.8" cy="472.3" r="3.7"/><circle cx="609.8" cy="482.2" r="4.1"/><circle cx="604.8" cy="482.2" r="4.8"/><circle cx="553.4" cy="474.2" r="3.6"/><circle cx="562.6" cy="481.7" r="4.2"/><circle cx="605.6" cy="473.5" r="4.1"/><circle cx="571.6" cy="471.1" r="4.9"/><circle cx="606.9" cy="469.7" r="3.7"/><circle cx="576.6" cy="479.1" r="4.2"/><circle cx="610.5" cy="481.6" r="3.7"/><circle cx="612.4" cy="464.0" r="4.8"/><circle cx="569.0" cy="469.2" r="5.0"/><circle cx="584.5" cy="468.2" r="4.9"/><circle cx="606.1" cy="483.6" r="4.2"/><circle cx="596.5" cy="485.0" r="4.3"/><circle cx="639.0" cy="467.4" r="4.8"/><circle cx="567.1" cy="475.1" r="3.5"/><circle cx="568.3" cy="484.7" r="4.3"/><circle cx="623.4" cy="468.8" r="4.1"/><circle cx="561.8" cy="475.7" r="4.9"/><circle cx="597.7" cy="471.7" r="5.0"/><circle cx="630.8" cy="478.3" r="3.7"/><circle cx="607.3" cy="473.2" r="5.0"/><circle cx="584.5" cy="478.2" r="4.5"/><circle cx="585.7" cy="475.0" r="4.6"/><circle cx="631.9" cy="474.5" r="4.1"/><circle cx="637.9" cy="464.3" r="4.9"/><circle cx="612.5" cy="475.8" r="4.2"/><circle cx="618.3" cy="483.5" r="4.7"/><circle cx="618.2" cy="463.8" r="4.0"/><circle cx="564.9" cy="484.9" r="4.9"/><circle cx="565.6" cy="476.5" r="4.4"/><circle cx="557.1" cy="472.0" r="4.7"/><circle cx="608.8" cy="469.5" r="4.7"/><circle cx="578.3" cy="475.5" r="4.2"/><circle cx="638.1" cy="477.9" r="4.8"/><circle cx="611.9" cy="471.8" r="5.1"/><circle cx="614.7" cy="478.9" r="4.0"/><circle cx="567.1" cy="476.2" r="4.8"/><circle cx="622.0" cy="471.0" r="3.8"/><circle cx="597.9" cy="483.2" r="3.8"/><circle cx="617.2" cy="466.9" r="4.0"/><circle cx="557.7" cy="469.8" r="4.1"/><circle cx="637.1" cy="485.1" r="3.8"/><circle cx="579.9" cy="484.7" r="3.8"/><circle cx="580.9" cy="473.1" r="3.7"/><circle cx="575.6" cy="472.1" r="4.1"/><circle cx="636.8" cy="469.1" r="3.9"/><circle cx="632.1" cy="473.4" r="4.9"/><circle cx="608.4" cy="480.9" r="4.0"/><circle cx="566.2" cy="480.4" r="4.3"/><circle cx="601.6" cy="478.4" r="4.7"/><circle cx="577.0" cy="471.3" r="5.0"/><circle cx="599.1" cy="469.6" r="4.5"/><circle cx="575.6" cy="480.7" r="3.6"/><circle cx="624.9" cy="476.0" r="4.1"/><circle cx="634.8" cy="469.1" r="3.9"/><circle cx="559.1" cy="475.6" r="4.7"/><circle cx="612.0" cy="472.5" r="4.8"/><circle cx="562.7" cy="470.1" r="4.6"/><circle cx="637.2" cy="477.6" r="4.6"/><circle cx="620.4" cy="472.1" r="5.0"/><circle cx="651.9" cy="476.8" r="4.1"/><circle cx="652.9" cy="476.9" r="3.8"/><circle cx="653.9" cy="479.4" r="4.3"/><circle cx="650.7" cy="484.6" r="3.7"/><circle cx="645.4" cy="472.9" r="4.1"/><circle cx="648.0" cy="483.9" r="4.5"/><circle cx="649.2" cy="477.7" r="4.3"/><circle cx="644.4" cy="483.8" r="4.6"/><circle cx="653.4" cy="474.1" r="4.5"/><circle cx="632.2" cy="341.3" r="5.3"/><circle cx="635.0" cy="358.3" r="4.8"/><circle cx="636.4" cy="369.6" r="4.8"/><circle cx="630.0" cy="349.0" r="4.8"/><circle cx="632.3" cy="339.4" r="4.8"/><circle cx="633.0" cy="364.0" r="4.8"/><circle cx="715.5" cy="356.8" r="4.9"/><circle cx="703.5" cy="366.7" r="4.9"/><circle cx="693.9" cy="379.5" r="4.9"/><circle cx="732.0" cy="374.7" r="4.9"/><circle cx="732.0" cy="379.5" r="4.9"/><circle cx="720.0" cy="380.0" r="4.9"/><circle cx="712.0" cy="385.3" r="4.9"/><circle cx="688.5" cy="409.9" r="3.9"/><circle cx="690.7" cy="420.5" r="3.9"/><circle cx="748.5" cy="410.7" r="3.9"/><circle cx="764.0" cy="401.9" r="4.3"/><circle cx="786.7" cy="402.7" r="3.4"/><circle cx="758.7" cy="412.0" r="3.9"/><circle cx="770.7" cy="409.3" r="4.3"/><circle cx="778.7" cy="410.7" r="4.3"/><circle cx="792.0" cy="422.7" r="3.4"/><circle cx="725.3" cy="468.0" r="4.8"/><circle cx="713.3" cy="473.3" r="4.3"/><circle cx="773.3" cy="465.3" r="3.9"/><circle cx="772.0" cy="470.7" r="3.9"/><circle cx="768.0" cy="478.7" r="4.3"/><circle cx="774.7" cy="478.7" r="4.3"/><circle cx="685.3" cy="457.3" r="3.9"/><circle cx="808.0" cy="462.7" r="4.5"/><circle cx="678.0" cy="438.8" r="5.3"/><circle cx="722.2" cy="393.1" r="4.6"/><circle cx="730.3" cy="395.8" r="4.5"/><circle cx="715.3" cy="392.4" r="3.7"/><circle cx="719.1" cy="391.7" r="4.3"/><circle cx="721.5" cy="406.6" r="4.3"/><circle cx="724.8" cy="396.5" r="3.8"/><circle cx="722.6" cy="407.2" r="4.4"/><circle cx="732.6" cy="401.0" r="4.0"/><circle cx="721.0" cy="399.4" r="4.5"/><circle cx="721.7" cy="403.7" r="4.3"/><circle cx="726.0" cy="408.6" r="3.6"/><circle cx="713.6" cy="406.5" r="4.5"/><circle cx="732.6" cy="406.1" r="3.7"/><circle cx="723.5" cy="414.0" r="3.9"/><circle cx="717.6" cy="412.2" r="3.8"/><circle cx="723.5" cy="396.8" r="4.5"/><circle cx="725.2" cy="393.4" r="3.6"/><circle cx="722.4" cy="400.7" r="4.1"/><circle cx="719.3" cy="404.6" r="4.3"/><circle cx="720.5" cy="392.4" r="4.0"/><circle cx="712.8" cy="402.2" r="3.8"/><circle cx="730.1" cy="392.7" r="4.5"/><circle cx="728.7" cy="401.1" r="4.7"/><circle cx="729.5" cy="407.2" r="3.7"/><circle cx="712.5" cy="406.3" r="4.4"/><circle cx="715.3" cy="405.3" r="3.8"/><circle cx="716.8" cy="407.3" r="3.8"/><circle cx="721.2" cy="393.0" r="4.1"/><circle cx="725.2" cy="414.1" r="3.8"/><circle cx="734.1" cy="454.2" r="4.4"/><circle cx="783.2" cy="437.2" r="4.8"/><circle cx="777.5" cy="432.2" r="4.5"/><circle cx="760.2" cy="443.3" r="3.3"/><circle cx="767.5" cy="427.8" r="4.3"/><circle cx="735.3" cy="451.3" r="3.5"/><circle cx="702.4" cy="426.0" r="3.8"/><circle cx="759.3" cy="442.2" r="3.9"/><circle cx="776.3" cy="429.9" r="4.0"/><circle cx="751.9" cy="443.7" r="3.5"/><circle cx="744.2" cy="427.2" r="4.9"/><circle cx="778.2" cy="431.1" r="4.1"/><circle cx="746.3" cy="433.9" r="3.4"/><circle cx="703.2" cy="434.7" r="3.6"/><circle cx="737.9" cy="442.8" r="4.8"/><circle cx="725.3" cy="422.1" r="4.9"/><circle cx="696.2" cy="446.3" r="3.9"/><circle cx="756.4" cy="423.9" r="3.5"/><circle cx="762.4" cy="440.7" r="4.2"/><circle cx="734.3" cy="441.3" r="4.6"/><circle cx="746.1" cy="427.4" r="3.3"/><circle cx="767.7" cy="431.1" r="3.4"/><circle cx="719.4" cy="453.4" r="4.7"/><circle cx="695.8" cy="441.5" r="3.6"/><circle cx="740.1" cy="458.1" r="3.9"/><circle cx="770.4" cy="448.9" r="3.5"/><circle cx="749.1" cy="452.2" r="4.2"/><circle cx="708.8" cy="427.9" r="4.0"/><circle cx="779.1" cy="446.7" r="3.3"/><circle cx="705.0" cy="442.2" r="4.4"/><circle cx="732.1" cy="430.9" r="4.3"/><circle cx="725.0" cy="427.8" r="3.5"/><circle cx="772.5" cy="432.0" r="3.4"/><circle cx="741.8" cy="458.8" r="3.6"/><circle cx="701.3" cy="450.6" r="4.6"/><circle cx="707.6" cy="427.8" r="3.3"/><circle cx="781.5" cy="450.4" r="4.6"/><circle cx="749.4" cy="441.0" r="3.7"/><circle cx="760.5" cy="436.2" r="4.4"/><circle cx="776.4" cy="433.6" r="4.8"/><circle cx="736.3" cy="447.4" r="3.3"/><circle cx="738.8" cy="433.9" r="4.9"/><circle cx="732.3" cy="432.0" r="4.6"/><circle cx="757.8" cy="451.6" r="3.4"/><circle cx="749.5" cy="422.6" r="4.8"/><circle cx="786.9" cy="440.2" r="4.2"/><circle cx="754.3" cy="427.9" r="4.3"/><circle cx="698.7" cy="430.5" r="3.4"/><circle cx="774.9" cy="444.7" r="3.7"/><circle cx="734.3" cy="441.0" r="4.5"/><circle cx="785.7" cy="442.6" r="4.6"/><circle cx="720.1" cy="441.7" r="4.3"/><circle cx="747.2" cy="452.0" r="3.4"/><circle cx="776.7" cy="437.9" r="3.8"/><circle cx="775.6" cy="449.0" r="4.7"/><circle cx="747.8" cy="435.1" r="3.9"/><circle cx="722.9" cy="455.7" r="3.5"/><circle cx="696.9" cy="428.3" r="4.5"/><circle cx="752.5" cy="440.2" r="3.4"/><circle cx="723.5" cy="426.2" r="4.1"/><circle cx="705.5" cy="443.3" r="4.3"/><circle cx="707.8" cy="425.4" r="4.5"/><circle cx="752.6" cy="422.6" r="4.7"/><circle cx="736.1" cy="436.7" r="4.4"/><circle cx="758.4" cy="429.9" r="4.7"/><circle cx="760.0" cy="456.7" r="4.0"/><circle cx="730.8" cy="430.8" r="3.8"/><circle cx="720.5" cy="448.8" r="3.4"/><circle cx="688.9" cy="446.6" r="4.4"/><circle cx="780.1" cy="433.1" r="4.7"/><circle cx="784.0" cy="439.4" r="3.7"/><circle cx="738.1" cy="452.2" r="3.3"/><circle cx="744.0" cy="457.8" r="4.8"/><circle cx="715.9" cy="454.7" r="4.6"/><circle cx="774.4" cy="429.2" r="4.1"/><circle cx="776.1" cy="450.6" r="3.8"/><circle cx="715.6" cy="431.8" r="4.2"/><circle cx="758.8" cy="438.4" r="4.1"/><circle cx="715.1" cy="428.7" r="4.8"/><circle cx="695.7" cy="450.0" r="4.4"/><circle cx="753.5" cy="438.8" r="3.6"/><circle cx="726.3" cy="457.6" r="3.3"/><circle cx="735.1" cy="456.0" r="4.9"/><circle cx="753.7" cy="451.2" r="4.4"/><circle cx="721.3" cy="424.7" r="4.5"/><circle cx="738.3" cy="449.6" r="3.3"/><circle cx="729.2" cy="431.9" r="3.7"/><circle cx="779.4" cy="436.6" r="4.2"/><circle cx="715.2" cy="427.8" r="4.4"/><circle cx="733.5" cy="444.5" r="3.4"/><circle cx="769.7" cy="441.0" r="3.5"/><circle cx="766.3" cy="448.7" r="4.9"/><circle cx="727.4" cy="430.8" r="4.5"/><circle cx="745.3" cy="445.4" r="3.8"/><circle cx="701.0" cy="448.5" r="4.0"/><circle cx="735.8" cy="434.2" r="4.8"/><circle cx="711.5" cy="454.5" r="3.3"/><circle cx="750.0" cy="432.0" r="4.7"/><circle cx="752.2" cy="425.3" r="3.7"/><circle cx="761.1" cy="440.5" r="4.8"/><circle cx="761.5" cy="452.9" r="4.2"/><circle cx="726.1" cy="433.1" r="3.5"/><circle cx="781.1" cy="450.8" r="3.9"/><circle cx="714.9" cy="428.3" r="3.6"/><circle cx="743.9" cy="440.9" r="4.7"/><circle cx="773.6" cy="453.6" r="3.9"/><circle cx="734.6" cy="433.0" r="4.6"/><circle cx="737.7" cy="451.5" r="4.1"/><circle cx="758.2" cy="446.1" r="4.6"/><circle cx="730.8" cy="451.4" r="4.5"/><circle cx="741.8" cy="448.3" r="3.6"/><circle cx="714.1" cy="447.6" r="4.3"/><circle cx="689.3" cy="443.1" r="3.3"/><circle cx="713.0" cy="425.1" r="3.6"/><circle cx="772.5" cy="442.3" r="3.4"/><circle cx="694.7" cy="444.0" r="3.4"/><circle cx="765.1" cy="448.9" r="3.5"/><circle cx="742.2" cy="452.5" r="3.5"/><circle cx="767.0" cy="444.7" r="4.0"/><circle cx="774.4" cy="434.5" r="3.4"/><circle cx="745.9" cy="456.1" r="4.2"/><circle cx="773.6" cy="426.4" r="4.7"/><circle cx="777.7" cy="451.8" r="4.1"/><circle cx="739.4" cy="447.8" r="4.7"/><circle cx="741.6" cy="445.3" r="3.7"/><circle cx="770.0" cy="434.1" r="4.5"/><circle cx="769.8" cy="445.8" r="3.8"/><circle cx="750.0" cy="454.9" r="3.9"/><circle cx="776.4" cy="452.9" r="4.1"/><circle cx="740.4" cy="441.8" r="4.3"/><circle cx="729.7" cy="439.7" r="4.0"/><circle cx="735.7" cy="426.1" r="3.6"/><circle cx="696.8" cy="440.1" r="4.3"/><circle cx="767.1" cy="453.5" r="4.8"/><circle cx="735.0" cy="422.4" r="3.9"/><circle cx="756.5" cy="435.4" r="3.6"/><circle cx="696.9" cy="429.6" r="3.4"/><circle cx="740.1" cy="443.5" r="4.0"/><circle cx="752.7" cy="446.4" r="4.5"/><circle cx="693.5" cy="430.8" r="3.9"/><circle cx="735.4" cy="438.1" r="4.8"/><circle cx="741.9" cy="453.0" r="4.1"/><circle cx="773.2" cy="435.7" r="4.9"/><circle cx="720.2" cy="433.9" r="4.7"/><circle cx="753.8" cy="458.1" r="4.0"/><circle cx="745.7" cy="458.4" r="3.8"/><circle cx="712.1" cy="446.1" r="4.4"/><circle cx="770.1" cy="441.7" r="3.5"/><circle cx="738.3" cy="439.8" r="4.3"/><circle cx="736.2" cy="452.8" r="4.2"/><circle cx="733.3" cy="433.2" r="3.7"/><circle cx="775.7" cy="452.8" r="3.5"/><circle cx="763.0" cy="450.4" r="4.2"/><circle cx="747.6" cy="437.0" r="3.6"/><circle cx="758.1" cy="452.6" r="4.0"/><circle cx="696.0" cy="449.7" r="4.4"/><circle cx="771.1" cy="425.7" r="3.7"/><circle cx="769.6" cy="435.7" r="3.3"/><circle cx="752.7" cy="436.9" r="3.3"/><circle cx="731.0" cy="449.9" r="4.9"/><circle cx="761.6" cy="431.0" r="4.1"/><circle cx="765.7" cy="426.1" r="4.3"/><circle cx="720.0" cy="439.5" r="3.7"/><circle cx="715.9" cy="427.8" r="4.6"/><circle cx="779.8" cy="428.9" r="3.6"/><circle cx="782.6" cy="448.3" r="4.2"/><circle cx="756.4" cy="454.4" r="3.7"/><circle cx="740.7" cy="451.5" r="4.1"/><circle cx="731.7" cy="435.4" r="4.5"/><circle cx="724.3" cy="427.2" r="4.4"/><circle cx="735.7" cy="431.1" r="4.1"/><circle cx="726.9" cy="424.4" r="4.3"/><circle cx="744.1" cy="440.9" r="4.6"/><circle cx="736.5" cy="438.5" r="4.9"/><circle cx="738.7" cy="438.2" r="4.9"/><circle cx="743.6" cy="429.2" r="4.5"/><circle cx="723.6" cy="438.3" r="4.5"/><circle cx="742.2" cy="435.4" r="3.6"/><circle cx="734.6" cy="433.9" r="3.5"/><circle cx="723.1" cy="435.6" r="3.4"/><circle cx="716.4" cy="427.2" r="4.2"/><circle cx="723.6" cy="438.6" r="4.0"/><circle cx="741.9" cy="438.2" r="3.3"/><circle cx="731.0" cy="428.4" r="3.9"/><circle cx="753.7" cy="430.0" r="4.7"/><circle cx="724.0" cy="425.8" r="4.4"/><circle cx="744.5" cy="431.1" r="4.5"/><circle cx="731.5" cy="436.8" r="4.6"/><circle cx="718.7" cy="426.5" r="4.7"/><circle cx="726.7" cy="429.6" r="3.3"/><circle cx="716.7" cy="430.1" r="3.7"/><circle cx="701.1" cy="478.3" r="3.4"/><circle cx="699.6" cy="477.3" r="3.5"/><circle cx="698.6" cy="487.2" r="4.7"/><circle cx="706.0" cy="478.5" r="4.6"/><circle cx="706.8" cy="477.2" r="3.6"/><circle cx="689.9" cy="477.1" r="3.8"/><circle cx="690.9" cy="478.7" r="3.2"/><circle cx="706.3" cy="480.2" r="3.2"/><circle cx="689.3" cy="471.5" r="3.5"/><circle cx="704.0" cy="468.9" r="3.6"/><circle cx="692.2" cy="478.2" r="4.6"/><circle cx="696.2" cy="477.1" r="3.3"/><circle cx="696.1" cy="471.6" r="4.3"/><circle cx="702.1" cy="487.7" r="4.4"/><circle cx="711.4" cy="482.7" r="3.4"/><circle cx="695.8" cy="468.5" r="4.4"/><circle cx="700.6" cy="481.3" r="4.2"/><circle cx="693.9" cy="476.4" r="3.4"/><circle cx="694.9" cy="476.2" r="4.1"/><circle cx="700.5" cy="483.6" r="3.8"/><circle cx="768.7" cy="476.4" r="2.6"/><circle cx="776.2" cy="473.8" r="3.0"/><circle cx="771.7" cy="472.2" r="3.5"/><circle cx="780.7" cy="475.6" r="3.0"/><circle cx="774.3" cy="474.1" r="2.8"/><circle cx="778.3" cy="485.8" r="3.8"/><circle cx="771.7" cy="414.6" r="4.4"/><circle cx="771.7" cy="435.3" r="4.3"/><circle cx="786.7" cy="431.7" r="3.4"/><circle cx="785.9" cy="431.0" r="3.5"/><circle cx="788.6" cy="422.5" r="3.9"/><circle cx="776.8" cy="432.6" r="4.0"/><circle cx="765.4" cy="426.9" r="4.3"/><circle cx="761.1" cy="425.7" r="3.4"/><circle cx="784.0" cy="431.7" r="4.0"/><circle cx="774.8" cy="439.4" r="3.6"/><circle cx="770.4" cy="436.8" r="4.3"/><circle cx="776.2" cy="419.5" r="3.9"/><circle cx="788.9" cy="422.1" r="4.2"/><circle cx="783.5" cy="433.8" r="4.2"/><circle cx="774.4" cy="430.7" r="4.7"/><circle cx="779.8" cy="425.3" r="3.9"/><circle cx="768.6" cy="422.8" r="3.4"/><circle cx="775.1" cy="415.7" r="3.9"/><circle cx="783.6" cy="432.5" r="3.4"/><circle cx="778.5" cy="427.3" r="3.7"/><circle cx="775.7" cy="422.9" r="3.4"/><circle cx="780.9" cy="430.4" r="4.0"/><circle cx="778.3" cy="423.0" r="3.5"/><circle cx="776.0" cy="418.9" r="3.8"/><circle cx="780.6" cy="432.8" r="4.7"/><circle cx="781.0" cy="432.8" r="4.4"/><circle cx="786.8" cy="419.6" r="4.0"/><circle cx="787.0" cy="425.1" r="3.7"/><circle cx="761.8" cy="430.6" r="4.3"/><circle cx="779.8" cy="432.5" r="4.7"/><circle cx="786.3" cy="435.9" r="3.8"/><circle cx="775.1" cy="435.1" r="4.0"/><circle cx="781.2" cy="427.7" r="4.5"/><circle cx="772.1" cy="433.2" r="4.4"/><circle cx="771.2" cy="433.1" r="3.9"/><circle cx="781.5" cy="416.3" r="4.1"/><circle cx="738.8" cy="459.1" r="4.6"/><circle cx="750.9" cy="487.4" r="4.5"/><circle cx="741.4" cy="464.4" r="4.0"/><circle cx="742.4" cy="466.4" r="4.6"/><circle cx="744.1" cy="472.6" r="4.4"/><circle cx="742.4" cy="467.3" r="4.7"/><circle cx="748.8" cy="480.9" r="3.8"/><circle cx="746.9" cy="479.1" r="3.7"/><circle cx="745.2" cy="475.7" r="4.0"/><circle cx="750.6" cy="484.7" r="3.7"/><circle cx="751.7" cy="485.7" r="4.3"/><circle cx="739.6" cy="459.7" r="4.1"/><circle cx="743.4" cy="469.8" r="4.6"/><circle cx="740.6" cy="462.0" r="3.7"/><circle cx="741.4" cy="469.5" r="3.8"/><circle cx="738.0" cy="461.9" r="3.8"/><circle cx="710.0" cy="488.6" r="4.3"/><circle cx="742.0" cy="487.6" r="4.0"/><circle cx="738.2" cy="489.4" r="4.5"/><circle cx="727.7" cy="487.6" r="4.5"/><circle cx="717.3" cy="485.2" r="3.9"/><circle cx="733.9" cy="490.0" r="3.6"/><circle cx="707.1" cy="494.1" r="4.0"/><circle cx="693.5" cy="488.2" r="3.4"/><circle cx="742.3" cy="492.0" r="2.9"/><circle cx="739.4" cy="484.4" r="3.9"/><circle cx="708.1" cy="492.3" r="3.5"/><circle cx="686.0" cy="490.0" r="4.4"/><circle cx="731.3" cy="488.1" r="3.1"/><circle cx="728.4" cy="493.2" r="3.1"/><circle cx="737.4" cy="495.4" r="3.5"/><circle cx="704.7" cy="492.2" r="4.6"/><circle cx="693.1" cy="487.5" r="3.3"/><circle cx="727.6" cy="486.1" r="3.8"/><circle cx="712.5" cy="491.7" r="2.9"/><circle cx="742.2" cy="495.5" r="3.8"/><circle cx="731.7" cy="486.1" r="4.6"/><circle cx="715.8" cy="492.7" r="4.5"/><circle cx="703.5" cy="494.6" r="3.0"/><circle cx="681.5" cy="489.8" r="4.5"/><circle cx="738.5" cy="495.0" r="3.7"/><circle cx="740.6" cy="490.4" r="2.9"/><circle cx="721.0" cy="493.2" r="3.5"/><circle cx="719.1" cy="487.0" r="3.2"/><circle cx="707.3" cy="489.9" r="3.6"/><circle cx="686.0" cy="484.1" r="3.3"/><circle cx="726.6" cy="492.6" r="3.1"/><circle cx="696.6" cy="489.9" r="3.0"/><circle cx="719.2" cy="494.4" r="3.0"/><circle cx="718.1" cy="492.3" r="4.2"/><circle cx="726.3" cy="492.2" r="3.2"/><circle cx="734.5" cy="494.6" r="2.7"/><circle cx="741.4" cy="489.1" r="2.8"/><circle cx="684.5" cy="493.2" r="4.1"/><circle cx="689.2" cy="489.3" r="4.0"/><circle cx="744.8" cy="487.9" r="4.2"/><circle cx="754.3" cy="489.5" r="2.4"/><circle cx="760.6" cy="492.6" r="2.6"/><circle cx="751.2" cy="489.6" r="2.3"/><circle cx="752.3" cy="490.4" r="2.8"/><circle cx="752.0" cy="491.6" r="2.8"/><circle cx="782.0" cy="491.6" r="3.5"/><circle cx="762.9" cy="489.5" r="3.0"/><circle cx="835.0" cy="441.4" r="2.9"/><circle cx="851.8" cy="437.8" r="3.1"/><circle cx="854.5" cy="441.4" r="3.1"/><circle cx="850.6" cy="444.5" r="3.1"/><circle cx="864.3" cy="447.0" r="2.9"/><circle cx="807.5" cy="463.0" r="4.3"/><circle cx="821.0" cy="463.0" r="5.8"/><circle cx="835.5" cy="441.0" r="2.9"/><circle cx="816.8" cy="488.9" r="3.0"/><circle cx="806.4" cy="473.7" r="3.7"/><circle cx="804.5" cy="491.2" r="3.6"/><circle cx="807.7" cy="478.0" r="3.2"/><circle cx="821.5" cy="478.2" r="2.9"/><circle cx="821.5" cy="476.7" r="3.6"/><circle cx="799.5" cy="476.6" r="3.7"/><circle cx="802.5" cy="487.7" r="4.0"/><circle cx="803.5" cy="476.2" r="4.8"/><circle cx="819.0" cy="490.7" r="4.6"/><circle cx="815.7" cy="476.1" r="4.3"/><circle cx="802.1" cy="494.8" r="4.0"/><circle cx="805.4" cy="487.9" r="3.1"/><circle cx="825.6" cy="478.6" r="2.9"/><circle cx="806.2" cy="492.4" r="3.9"/><circle cx="800.2" cy="493.6" r="3.6"/><circle cx="794.1" cy="482.7" r="4.2"/><circle cx="801.2" cy="486.0" r="3.7"/><circle cx="799.0" cy="478.3" r="3.4"/><circle cx="803.9" cy="490.4" r="3.6"/><circle cx="823.9" cy="480.4" r="3.4"/><circle cx="803.5" cy="494.5" r="3.2"/><circle cx="811.0" cy="483.4" r="3.3"/><circle cx="827.9" cy="488.9" r="3.2"/><circle cx="812.6" cy="487.9" r="3.4"/><circle cx="810.3" cy="474.9" r="4.7"/><circle cx="825.3" cy="482.1" r="4.8"/><circle cx="827.5" cy="491.2" r="3.8"/><circle cx="817.8" cy="494.7" r="4.6"/><circle cx="807.6" cy="487.4" r="4.7"/><circle cx="812.3" cy="475.7" r="4.9"/><circle cx="816.4" cy="485.7" r="3.1"/><circle cx="827.8" cy="486.4" r="4.2"/><circle cx="817.8" cy="488.1" r="3.3"/><circle cx="799.9" cy="478.8" r="4.9"/><circle cx="800.0" cy="494.1" r="3.8"/><circle cx="804.6" cy="488.8" r="3.4"/><circle cx="830.7" cy="483.1" r="4.3"/><circle cx="815.7" cy="489.5" r="3.2"/><circle cx="802.3" cy="493.3" r="3.0"/><circle cx="796.6" cy="483.1" r="3.0"/><circle cx="796.3" cy="489.0" r="4.1"/><circle cx="795.0" cy="488.4" r="4.1"/><circle cx="805.8" cy="491.5" r="4.8"/><circle cx="823.5" cy="476.1" r="4.0"/><circle cx="817.0" cy="488.9" r="3.7"/><circle cx="811.5" cy="484.2" r="4.5"/><circle cx="815.1" cy="476.6" r="2.9"/><circle cx="815.6" cy="477.6" r="4.3"/><circle cx="797.3" cy="480.6" r="3.7"/><circle cx="830.0" cy="482.1" r="4.8"/><circle cx="804.0" cy="480.5" r="3.7"/><circle cx="809.9" cy="496.3" r="4.5"/><circle cx="816.1" cy="474.4" r="4.9"/><circle cx="807.9" cy="478.7" r="4.4"/><circle cx="810.9" cy="494.4" r="3.2"/><circle cx="820.3" cy="478.5" r="3.4"/><circle cx="816.8" cy="483.4" r="4.8"/><circle cx="812.3" cy="480.4" r="4.4"/><circle cx="795.8" cy="479.9" r="4.1"/><circle cx="795.5" cy="490.1" r="3.1"/><circle cx="813.0" cy="481.2" r="3.4"/><circle cx="825.4" cy="492.3" r="3.8"/><circle cx="810.6" cy="479.0" r="4.4"/><circle cx="808.5" cy="482.0" r="3.9"/><circle cx="810.4" cy="479.5" r="4.2"/><circle cx="810.0" cy="492.2" r="4.8"/><circle cx="829.8" cy="480.8" r="3.8"/><circle cx="796.6" cy="480.3" r="4.4"/><circle cx="795.0" cy="488.0" r="3.7"/><circle cx="824.4" cy="482.5" r="3.1"/><circle cx="812.0" cy="480.4" r="4.3"/><circle cx="829.8" cy="488.9" r="4.0"/><circle cx="811.6" cy="480.7" r="4.2"/><circle cx="805.2" cy="489.2" r="4.6"/><circle cx="824.8" cy="486.7" r="3.1"/><circle cx="822.7" cy="475.9" r="3.0"/><circle cx="799.3" cy="486.8" r="4.4"/><circle cx="810.5" cy="478.0" r="4.8"/><circle cx="850.2" cy="477.1" r="4.4"/><circle cx="852.7" cy="476.3" r="3.8"/><circle cx="844.9" cy="477.2" r="4.6"/><circle cx="834.9" cy="473.6" r="3.3"/><circle cx="854.0" cy="466.6" r="4.6"/><circle cx="836.8" cy="459.4" r="4.3"/><circle cx="840.5" cy="461.4" r="4.5"/><circle cx="843.6" cy="473.0" r="4.6"/><circle cx="852.2" cy="457.0" r="4.3"/><circle cx="849.2" cy="483.2" r="4.4"/><circle cx="862.0" cy="466.9" r="3.2"/><circle cx="843.5" cy="458.7" r="3.6"/><circle cx="850.7" cy="476.8" r="3.8"/><circle cx="840.2" cy="471.4" r="3.6"/><circle cx="835.7" cy="465.8" r="4.0"/><circle cx="855.4" cy="485.4" r="3.6"/><circle cx="862.4" cy="466.5" r="3.1"/><circle cx="835.2" cy="462.3" r="3.6"/><circle cx="840.0" cy="468.0" r="2.9"/><circle cx="849.5" cy="477.1" r="3.4"/><circle cx="840.3" cy="461.2" r="4.6"/><circle cx="844.4" cy="461.0" r="4.6"/><circle cx="840.6" cy="461.1" r="4.5"/><circle cx="843.7" cy="461.5" r="4.0"/><circle cx="843.4" cy="487.8" r="3.3"/><circle cx="851.8" cy="470.2" r="2.9"/><circle cx="841.6" cy="468.3" r="3.8"/><circle cx="858.1" cy="482.1" r="4.1"/><circle cx="842.2" cy="455.1" r="4.7"/><circle cx="842.5" cy="457.3" r="2.9"/><circle cx="857.3" cy="474.6" r="4.7"/><circle cx="843.6" cy="483.5" r="2.9"/><circle cx="835.7" cy="479.6" r="4.0"/><circle cx="848.8" cy="469.2" r="3.3"/><circle cx="853.9" cy="485.8" r="3.1"/><circle cx="855.1" cy="467.1" r="4.5"/><circle cx="839.5" cy="470.0" r="4.7"/><circle cx="837.6" cy="479.4" r="3.0"/><circle cx="855.2" cy="455.4" r="3.1"/><circle cx="847.8" cy="461.6" r="3.2"/><circle cx="840.0" cy="482.0" r="4.7"/><circle cx="862.9" cy="470.3" r="4.0"/><circle cx="844.6" cy="465.1" r="4.2"/><circle cx="839.5" cy="467.6" r="4.6"/><circle cx="847.8" cy="477.8" r="3.2"/><circle cx="854.8" cy="482.1" r="4.4"/><circle cx="853.7" cy="481.8" r="4.0"/><circle cx="839.1" cy="466.7" r="3.9"/><circle cx="851.6" cy="471.4" r="3.7"/><circle cx="849.1" cy="486.6" r="3.3"/><circle cx="851.3" cy="463.1" r="3.1"/><circle cx="838.8" cy="472.6" r="3.5"/><circle cx="848.7" cy="462.6" r="4.1"/><circle cx="853.1" cy="460.6" r="3.8"/><circle cx="858.3" cy="464.5" r="3.2"/><circle cx="851.9" cy="473.2" r="3.5"/><circle cx="858.2" cy="478.7" r="3.7"/><circle cx="844.1" cy="483.0" r="4.6"/><circle cx="848.2" cy="478.1" r="3.5"/><circle cx="841.6" cy="486.3" r="4.2"/><circle cx="842.5" cy="474.2" r="3.0"/><circle cx="857.9" cy="482.5" r="4.1"/><circle cx="854.6" cy="482.9" r="3.0"/><circle cx="839.3" cy="470.5" r="3.1"/><circle cx="847.4" cy="455.8" r="3.8"/><circle cx="854.0" cy="483.8" r="3.7"/><circle cx="845.6" cy="466.4" r="4.6"/><circle cx="855.1" cy="471.2" r="3.6"/><circle cx="836.3" cy="490.5" r="4.2"/><circle cx="843.1" cy="487.8" r="3.4"/><circle cx="831.8" cy="484.3" r="3.6"/><circle cx="831.5" cy="482.5" r="3.2"/><circle cx="844.3" cy="490.8" r="4.7"/><circle cx="838.9" cy="486.6" r="3.8"/><circle cx="828.8" cy="488.3" r="4.1"/><circle cx="822.4" cy="488.2" r="3.4"/><circle cx="846.6" cy="484.7" r="3.8"/><circle cx="841.1" cy="492.9" r="3.1"/><circle cx="830.4" cy="481.1" r="4.0"/><circle cx="837.9" cy="487.7" r="4.2"/><circle cx="836.5" cy="485.1" r="3.5"/><circle cx="845.1" cy="490.3" r="4.2"/><circle cx="828.3" cy="494.1" r="3.6"/><circle cx="833.3" cy="483.4" r="4.7"/><circle cx="834.2" cy="488.2" r="3.1"/><circle cx="833.1" cy="479.7" r="4.1"/><circle cx="842.3" cy="495.0" r="4.2"/><circle cx="841.5" cy="491.7" r="4.1"/><circle cx="837.9" cy="488.0" r="3.5"/><circle cx="844.9" cy="481.6" r="3.5"/><circle cx="845.4" cy="483.7" r="4.5"/><circle cx="823.3" cy="483.3" r="4.1"/><circle cx="845.0" cy="485.8" r="3.2"/><circle cx="825.3" cy="487.3" r="3.5"/><circle cx="828.0" cy="492.6" r="4.0"/><circle cx="836.3" cy="492.7" r="3.8"/><circle cx="825.9" cy="487.9" r="4.1"/></g>
<g fill="#8fcdec" stroke="#111" stroke-width="1.35"><circle cx="580.9" cy="150.0" r="5.3"/><circle cx="601.2" cy="146.8" r="5.3"/><circle cx="604.0" cy="176.0" r="5.3"/><circle cx="545.2" cy="184.3" r="5.3"/><circle cx="548.2" cy="185.2" r="5.3"/><circle cx="542.6" cy="193.8" r="5.3"/><circle cx="543.8" cy="201.2" r="5.3"/><circle cx="541.5" cy="221.6" r="5.3"/><circle cx="571.5" cy="221.3" r="5.3"/><circle cx="584.5" cy="218.0" r="5.3"/><circle cx="566.8" cy="243.8" r="5.3"/><circle cx="598.4" cy="240.6" r="5.3"/><circle cx="566.5" cy="265.6" r="5.3"/><circle cx="504.0" cy="267.8" r="5.3"/><circle cx="556.4" cy="311.4" r="5.3"/><circle cx="582.6" cy="312.6" r="5.3"/><circle cx="586.0" cy="312.6" r="5.3"/><circle cx="440.2" cy="307.2" r="5.3"/><circle cx="455.6" cy="357.2" r="5.3"/><circle cx="640.4" cy="333.2" r="5.3"/><circle cx="642.1" cy="352.6" r="5.3"/><circle cx="615.3" cy="399.3" r="5.3"/><circle cx="492.8" cy="416.8" r="5.1"/><circle cx="440.4" cy="334.3" r="3.4"/><circle cx="446.8" cy="341.8" r="3.9"/><circle cx="453.0" cy="429.4" r="2.9"/><circle cx="608.0" cy="375.5" r="3.9"/><circle cx="609.5" cy="380.5" r="4.1"/><circle cx="606.5" cy="386.0" r="3.9"/><circle cx="622.5" cy="382.0" r="4.5"/><circle cx="618.0" cy="383.0" r="3.9"/><circle cx="633.0" cy="398.5" r="5.3"/><circle cx="628.4" cy="404.0" r="5.3"/><circle cx="638.5" cy="407.8" r="5.3"/><circle cx="633.0" cy="409.8" r="5.3"/><circle cx="634.6" cy="416.2" r="5.3"/><circle cx="410.7" cy="373.7" r="5.3"/><circle cx="415.4" cy="373.7" r="5.3"/><circle cx="419.8" cy="374.8" r="5.3"/><circle cx="409.8" cy="380.3" r="5.3"/><circle cx="414.5" cy="391.6" r="5.3"/><circle cx="420.1" cy="392.5" r="5.3"/><circle cx="423.9" cy="395.3" r="5.3"/><circle cx="428.6" cy="398.2" r="5.3"/><circle cx="427.7" cy="407.6" r="5.1"/><circle cx="414.3" cy="412.7" r="4.5"/><circle cx="422.2" cy="412.0" r="4.1"/><circle cx="422.3" cy="410.1" r="3.7"/><circle cx="413.7" cy="406.0" r="3.7"/><circle cx="408.3" cy="414.6" r="3.8"/><circle cx="417.3" cy="424.9" r="4.9"/><circle cx="410.7" cy="394.8" r="4.9"/><circle cx="424.4" cy="410.5" r="4.0"/><circle cx="418.0" cy="410.6" r="4.0"/><circle cx="417.6" cy="392.1" r="4.4"/><circle cx="412.3" cy="389.9" r="4.3"/><circle cx="418.1" cy="405.6" r="3.9"/><circle cx="413.4" cy="386.4" r="4.0"/><circle cx="410.5" cy="393.3" r="4.0"/><circle cx="418.2" cy="380.5" r="3.9"/><circle cx="409.9" cy="393.9" r="4.8"/><circle cx="415.3" cy="388.1" r="4.9"/><circle cx="420.5" cy="415.2" r="4.6"/><circle cx="419.8" cy="419.0" r="3.7"/><circle cx="411.9" cy="381.7" r="4.4"/><circle cx="419.8" cy="391.9" r="4.5"/><circle cx="410.0" cy="391.1" r="4.2"/><circle cx="420.9" cy="380.0" r="4.2"/><circle cx="414.8" cy="397.1" r="4.5"/><circle cx="410.3" cy="380.7" r="4.7"/><circle cx="414.7" cy="420.0" r="4.5"/><circle cx="422.4" cy="405.7" r="3.8"/><circle cx="417.7" cy="407.6" r="4.6"/><circle cx="419.3" cy="413.1" r="4.1"/><circle cx="417.9" cy="397.3" r="4.2"/><circle cx="407.5" cy="395.0" r="4.7"/><circle cx="419.3" cy="391.9" r="4.2"/><circle cx="410.4" cy="423.4" r="4.9"/><circle cx="418.3" cy="412.5" r="3.9"/><circle cx="416.7" cy="422.4" r="4.4"/><circle cx="416.0" cy="404.8" r="4.2"/><circle cx="411.1" cy="418.4" r="4.9"/><circle cx="413.5" cy="384.3" r="4.4"/><circle cx="415.0" cy="397.2" r="4.8"/><circle cx="417.7" cy="377.3" r="4.7"/><circle cx="411.3" cy="414.1" r="3.8"/><circle cx="414.4" cy="397.8" r="3.7"/><circle cx="417.0" cy="413.9" r="4.1"/><circle cx="416.1" cy="403.1" r="3.8"/><circle cx="420.6" cy="413.0" r="3.7"/><circle cx="421.2" cy="387.4" r="3.8"/><circle cx="415.9" cy="419.5" r="4.1"/><circle cx="422.3" cy="421.0" r="4.9"/><circle cx="409.5" cy="407.1" r="3.7"/><circle cx="420.5" cy="412.8" r="4.0"/><circle cx="417.8" cy="393.1" r="3.7"/><circle cx="422.6" cy="396.8" r="3.8"/><circle cx="414.5" cy="401.8" r="4.3"/><circle cx="424.7" cy="399.5" r="4.5"/><circle cx="415.6" cy="419.9" r="3.8"/><circle cx="417.0" cy="382.8" r="4.6"/><circle cx="413.8" cy="414.6" r="4.7"/><circle cx="424.7" cy="400.6" r="4.7"/><circle cx="426.1" cy="389.4" r="4.1"/><circle cx="420.4" cy="397.3" r="3.8"/><circle cx="427.1" cy="399.0" r="4.1"/><circle cx="421.9" cy="387.9" r="4.3"/><circle cx="429.5" cy="393.8" r="4.9"/><circle cx="422.1" cy="401.9" r="4.1"/><circle cx="424.9" cy="402.7" r="4.5"/><circle cx="428.5" cy="392.1" r="4.3"/><circle cx="420.9" cy="389.9" r="3.9"/><circle cx="421.0" cy="389.1" r="4.7"/><circle cx="424.0" cy="390.4" r="4.0"/><circle cx="424.8" cy="391.8" r="4.7"/><circle cx="427.7" cy="396.8" r="4.3"/><circle cx="428.8" cy="394.9" r="4.0"/><circle cx="457.7" cy="408.8" r="4.8"/><circle cx="456.3" cy="402.4" r="4.7"/><circle cx="463.0" cy="405.0" r="4.2"/><circle cx="451.5" cy="404.9" r="3.8"/><circle cx="462.9" cy="404.5" r="4.4"/><circle cx="461.0" cy="403.3" r="4.8"/><circle cx="430.9" cy="382.2" r="4.6"/><circle cx="444.1" cy="391.6" r="4.6"/><circle cx="442.2" cy="399.2" r="4.6"/><circle cx="444.6" cy="392.5" r="5.3"/><circle cx="446.5" cy="399.1" r="5.3"/><circle cx="452.1" cy="401.0" r="5.3"/><circle cx="464.4" cy="402.9" r="5.1"/><circle cx="461.6" cy="410.4" r="5.3"/><circle cx="465.3" cy="414.2" r="5.3"/><circle cx="444.2" cy="390.8" r="5.3"/><circle cx="445.7" cy="397.8" r="5.3"/><circle cx="461.2" cy="410.6" r="5.3"/><circle cx="428.5" cy="397.5" r="5.3"/><circle cx="426.6" cy="407.0" r="5.3"/><circle cx="421.9" cy="429.6" r="5.3"/><circle cx="444.5" cy="399.4" r="5.3"/><circle cx="452.0" cy="401.3" r="5.3"/><circle cx="465.2" cy="412.6" r="5.3"/><circle cx="458.0" cy="406.0" r="5.3"/><circle cx="449.0" cy="405.0" r="5.3"/><circle cx="455.0" cy="409.0" r="5.3"/><circle cx="214.2" cy="465.1" r="4.9"/><circle cx="225.6" cy="466.6" r="4.9"/><circle cx="234.9" cy="471.0" r="3.9"/><circle cx="243.8" cy="470.3" r="4.3"/><circle cx="202.4" cy="471.0" r="4.8"/><circle cx="212.0" cy="474.0" r="4.8"/><circle cx="225.3" cy="474.8" r="4.6"/><circle cx="197.2" cy="474.8" r="5.3"/><circle cx="192.8" cy="476.2" r="5.3"/><circle cx="188.3" cy="473.3" r="5.3"/><circle cx="183.9" cy="474.8" r="5.3"/><circle cx="219.3" cy="481.4" r="3.4"/><circle cx="209.1" cy="490.2" r="3.8"/><circle cx="211.9" cy="492.0" r="3.2"/><circle cx="228.1" cy="482.3" r="3.7"/><circle cx="188.3" cy="480.7" r="3.6"/><circle cx="231.5" cy="482.0" r="3.8"/><circle cx="208.9" cy="485.3" r="3.6"/><circle cx="213.8" cy="486.1" r="4.2"/><circle cx="222.7" cy="491.6" r="4.1"/><circle cx="196.9" cy="483.5" r="3.7"/><circle cx="188.0" cy="482.5" r="3.1"/><circle cx="199.1" cy="483.7" r="3.4"/><circle cx="216.0" cy="478.4" r="3.8"/><circle cx="214.8" cy="476.0" r="3.6"/><circle cx="196.8" cy="480.9" r="3.7"/><circle cx="205.9" cy="479.2" r="3.8"/><circle cx="184.2" cy="486.8" r="4.0"/><circle cx="233.8" cy="478.7" r="3.4"/><circle cx="185.9" cy="482.0" r="4.2"/><circle cx="219.8" cy="488.1" r="3.6"/><circle cx="226.2" cy="487.7" r="3.1"/><circle cx="200.1" cy="477.8" r="4.3"/><circle cx="227.3" cy="492.5" r="4.0"/><circle cx="230.6" cy="492.9" r="4.4"/><circle cx="218.6" cy="495.1" r="3.6"/><circle cx="183.2" cy="486.3" r="4.2"/><circle cx="223.4" cy="491.1" r="3.7"/><circle cx="206.0" cy="489.2" r="3.5"/><circle cx="212.3" cy="484.1" r="3.8"/><circle cx="209.2" cy="486.0" r="3.5"/><circle cx="197.7" cy="480.5" r="3.1"/><circle cx="239.5" cy="484.7" r="4.4"/><circle cx="225.2" cy="488.7" r="3.0"/><circle cx="215.8" cy="480.4" r="3.2"/><circle cx="187.7" cy="490.0" r="4.2"/><circle cx="212.4" cy="489.4" r="4.3"/><circle cx="190.3" cy="481.9" r="3.1"/><circle cx="236.3" cy="488.4" r="3.6"/><circle cx="239.1" cy="489.8" r="3.9"/><circle cx="215.8" cy="482.8" r="4.3"/><circle cx="238.5" cy="489.3" r="3.7"/><circle cx="201.1" cy="491.8" r="4.4"/><circle cx="211.8" cy="489.1" r="3.8"/><circle cx="213.7" cy="488.8" r="3.2"/><circle cx="225.8" cy="486.9" r="3.4"/><circle cx="204.1" cy="493.7" r="3.4"/><circle cx="200.3" cy="485.5" r="3.5"/><circle cx="227.9" cy="486.1" r="3.0"/><circle cx="210.6" cy="478.1" r="3.3"/><circle cx="184.4" cy="487.0" r="3.1"/><circle cx="221.3" cy="479.5" r="3.7"/><circle cx="222.5" cy="480.1" r="3.7"/><circle cx="201.7" cy="476.3" r="3.5"/><circle cx="225.5" cy="478.2" r="3.9"/><circle cx="198.4" cy="488.8" r="3.1"/><circle cx="218.5" cy="487.4" r="4.1"/><circle cx="212.6" cy="489.5" r="3.1"/><circle cx="228.2" cy="477.7" r="4.0"/><circle cx="210.1" cy="490.3" r="3.4"/><circle cx="201.5" cy="486.5" r="3.6"/><circle cx="210.6" cy="495.3" r="4.4"/><circle cx="198.8" cy="484.1" r="4.4"/><circle cx="206.5" cy="491.1" r="3.0"/><circle cx="197.8" cy="490.2" r="3.7"/><circle cx="219.5" cy="492.3" r="3.0"/><circle cx="212.2" cy="488.5" r="3.6"/><circle cx="217.3" cy="485.9" r="3.4"/><circle cx="215.5" cy="493.1" r="3.8"/><circle cx="213.1" cy="477.4" r="4.0"/><circle cx="226.6" cy="481.2" r="3.5"/><circle cx="224.5" cy="485.1" r="4.1"/><circle cx="209.1" cy="483.9" r="4.2"/><circle cx="231.5" cy="480.5" r="4.1"/><circle cx="217.3" cy="482.0" r="3.8"/><circle cx="185.6" cy="485.2" r="4.2"/><circle cx="223.6" cy="478.7" r="4.3"/><circle cx="202.8" cy="477.9" r="3.3"/><circle cx="223.7" cy="486.2" r="3.5"/><circle cx="234.7" cy="491.1" r="3.8"/><circle cx="196.5" cy="479.8" r="4.0"/><circle cx="211.3" cy="485.5" r="4.2"/><circle cx="212.8" cy="478.4" r="3.8"/><circle cx="208.8" cy="483.3" r="4.1"/><circle cx="212.9" cy="488.2" r="3.4"/><circle cx="211.2" cy="481.0" r="4.1"/><circle cx="233.8" cy="484.4" r="3.5"/><circle cx="188.4" cy="486.6" r="4.1"/><circle cx="195.2" cy="480.1" r="3.1"/><circle cx="222.1" cy="489.5" r="4.1"/><circle cx="205.4" cy="492.6" r="3.0"/></g>
<g fill="#5cba47" stroke="#111" stroke-width="1.35"><circle cx="514.2" cy="112.5" r="5.6"/><circle cx="499.5" cy="243.7" r="5.3"/><circle cx="532.3" cy="241.8" r="5.3"/><circle cx="498.0" cy="256.2" r="5.3"/><circle cx="517.4" cy="260.0" r="5.3"/><circle cx="521.0" cy="260.4" r="5.3"/><circle cx="524.9" cy="260.7" r="5.3"/><circle cx="530.5" cy="260.5" r="5.3"/><circle cx="530.3" cy="270.0" r="5.3"/><circle cx="496.9" cy="276.2" r="5.3"/><circle cx="520.1" cy="330.9" r="5.3"/><circle cx="536.8" cy="334.0" r="5.3"/><circle cx="538.9" cy="340.8" r="5.3"/><circle cx="450.3" cy="335.3" r="5.3"/><circle cx="450.5" cy="342.3" r="5.3"/><circle cx="442.7" cy="367.0" r="5.5"/><circle cx="436.3" cy="375.5" r="4.9"/><circle cx="439.0" cy="380.4" r="5.8"/><circle cx="435.2" cy="385.0" r="4.9"/><circle cx="450.3" cy="411.8" r="5.3"/><circle cx="458.3" cy="416.4" r="5.3"/><circle cx="447.5" cy="419.6" r="5.3"/><circle cx="348.4" cy="412.3" r="5.3"/><circle cx="306.0" cy="438.2" r="5.3"/><circle cx="317.3" cy="437.6" r="5.3"/><circle cx="322.0" cy="437.8" r="5.3"/><circle cx="361.6" cy="434.7" r="5.3"/><circle cx="337.1" cy="446.3" r="5.3"/><circle cx="341.8" cy="447.5" r="5.3"/><circle cx="339.0" cy="445.0" r="5.3"/><circle cx="316.2" cy="453.8" r="5.3"/><circle cx="322.0" cy="453.3" r="5.3"/><circle cx="327.7" cy="453.8" r="5.3"/><circle cx="335.0" cy="453.8" r="5.3"/><circle cx="355.0" cy="458.7" r="5.3"/><circle cx="359.4" cy="469.0" r="5.3"/><circle cx="350.3" cy="482.4" r="5.3"/><circle cx="353.1" cy="492.6" r="5.3"/><circle cx="346.8" cy="492.4" r="5.3"/></g>
<g fill="#f6a323" stroke="#111" stroke-width="1.35"><circle cx="303.4" cy="415.8" r="4.8"/><circle cx="345.3" cy="417.6" r="4.8"/><circle cx="370.4" cy="444.6" r="4.8"/></g>
<g fill="#e0262b" stroke="#111" stroke-width="1.35"><circle cx="471.0" cy="217.4" r="5.3"/><circle cx="466.0" cy="222.4" r="5.3"/><circle cx="475.3" cy="225.8" r="5.3"/><circle cx="492.4" cy="253.8" r="5.3"/><circle cx="483.1" cy="258.0" r="5.3"/><circle cx="479.3" cy="260.7" r="5.3"/><circle cx="477.8" cy="264.0" r="5.3"/><circle cx="455.7" cy="284.8" r="5.3"/><circle cx="412.2" cy="294.7" r="5.3"/><circle cx="400.8" cy="309.3" r="5.3"/><circle cx="402.9" cy="323.5" r="5.3"/><circle cx="441.1" cy="315.8" r="5.3"/><circle cx="401.5" cy="361.3" r="5.3"/><circle cx="375.1" cy="358.4" r="4.0"/></g>
<path d="M473.8,62.0 L479.9,68.1 L473.8,74.2 L467.7,68.1 Z" fill="#7b3aa0" stroke="#111" stroke-width="1.4"/>
<text x="474" y="57.8" font-size="17" text-anchor="middle" fill="#111">rs12467877</text>
<g stroke="#222" stroke-width="1.2" fill="none">
<line x1="70" y1="29.4" x2="70" y2="495.8"/>
<line x1="59.5" y1="495.8" x2="70" y2="495.8"/>
<line x1="59.5" y1="402.5" x2="70" y2="402.5"/>
<line x1="59.5" y1="309.2" x2="70" y2="309.2"/>
<line x1="59.5" y1="216.0" x2="70" y2="216.0"/>
<line x1="59.5" y1="122.7" x2="70" y2="122.7"/>
<line x1="59.5" y1="29.4" x2="70" y2="29.4"/>
</g>
<g font-size="17" fill="#222" text-anchor="end">
<text x="50.2" y="502.6">0</text>
<text x="50.2" y="409.3">2</text>
<text x="50.2" y="316.0">4</text>
<text x="50.2" y="222.8">6</text>
<text x="50.2" y="129.5">8</text>
<text x="50.2" y="36.2">10</text>
</g>
<text transform="translate(14.6,260) rotate(-90)" font-size="17" fill="#222" text-anchor="middle">−log<tspan font-size="10.5" dy="2">10</tspan><tspan dy="-2">(p−value)</tspan></text>
<g stroke="#2a33a0" stroke-width="1.4" fill="none">
<line x1="877.8" y1="25.3" x2="877.8" y2="496.2"/>
<line x1="877.8" y1="496.2" x2="888" y2="496.2"/>
<line x1="877.8" y1="402.0" x2="888" y2="402.0"/>
<line x1="877.8" y1="307.8" x2="888" y2="307.8"/>
<line x1="877.8" y1="213.7" x2="888" y2="213.7"/>
<line x1="877.8" y1="119.5" x2="888" y2="119.5"/>
<line x1="877.8" y1="25.3" x2="888" y2="25.3"/>
</g>
<g font-size="17" fill="#2a33a0">
<text x="898" y="502.9">0</text>
<text x="898" y="408.7">20</text>
<text x="898" y="314.5">40</text>
<text x="898" y="220.4">60</text>
<text x="898" y="126.2">80</text>
<text x="898" y="32.0">100</text>
</g>
<text transform="translate(932.3,260.5) rotate(90)" font-size="17" fill="#2a33a0" text-anchor="middle">Recombination rate (cM/Mb)</text>
<rect x="70" y="1.8" width="807.8" height="517.3" fill="none" stroke="#4a4a4a" stroke-width="1.4"/>
<rect x="77.8" y="10" width="67.8" height="161" fill="#fff" stroke="#222" stroke-width="1.3"/>
<rect x="87.4" y="38.0" width="16" height="25.1" fill="#e0262b" stroke="#333" stroke-width="1"/>
<rect x="87.4" y="63.1" width="16" height="25.1" fill="#f6a323" stroke="#333" stroke-width="1"/>
<rect x="87.4" y="88.1" width="16" height="25.1" fill="#5cba47" stroke="#333" stroke-width="1"/>
<rect x="87.4" y="113.2" width="16" height="25.1" fill="#8fcdec" stroke="#333" stroke-width="1"/>
<rect x="87.4" y="138.3" width="16" height="25.1" fill="#282680" stroke="#333" stroke-width="1"/>
<line x1="103.4" y1="63.1" x2="111.8" y2="63.1" stroke="#222" stroke-width="1.2"/>
<text x="116.8" y="68.3" font-size="13.8" fill="#222">0.8</text>
<line x1="103.4" y1="88.1" x2="111.8" y2="88.1" stroke="#222" stroke-width="1.2"/>
<text x="116.8" y="93.3" font-size="13.8" fill="#222">0.6</text>
<line x1="103.4" y1="113.2" x2="111.8" y2="113.2" stroke="#222" stroke-width="1.2"/>
<text x="116.8" y="118.4" font-size="13.8" fill="#222">0.4</text>
<line x1="103.4" y1="138.3" x2="111.8" y2="138.3" stroke="#222" stroke-width="1.2"/>
<text x="116.8" y="143.5" font-size="13.8" fill="#222">0.2</text>
<text x="106.5" y="32" font-size="16.5" fill="#222">r<tspan font-size="10.5" dy="-7">2</tspan></text>
<rect x="70" y="540" width="807.8" height="31.7" fill="#fff" stroke="#4a4a4a" stroke-width="1.4"/>
<line x1="248" y1="563" x2="877" y2="563" stroke="#26266f" stroke-width="1.6"/>
<rect x="247.5" y="560.3" width="5.5" height="5.5" fill="#26266f"/>
<line x1="274.5" y1="559.8" x2="274.5" y2="566.2" stroke="#26266f" stroke-width="1.2"/>
<line x1="385.5" y1="559.8" x2="385.5" y2="566.2" stroke="#26266f" stroke-width="2.6"/>
<line x1="423.3" y1="559.8" x2="423.3" y2="566.2" stroke="#26266f" stroke-width="1.2"/>
<line x1="570.3" y1="559.8" x2="570.3" y2="566.2" stroke="#26266f" stroke-width="1.2"/>
<line x1="682.0" y1="559.8" x2="682.0" y2="566.2" stroke="#26266f" stroke-width="1.6"/>
<line x1="801.6" y1="559.8" x2="801.6" y2="566.2" stroke="#26266f" stroke-width="1.2"/>
<line x1="808.1" y1="559.8" x2="808.1" y2="566.2" stroke="#26266f" stroke-width="1.2"/>
<line x1="833.0" y1="559.8" x2="833.0" y2="566.2" stroke="#26266f" stroke-width="3.0"/>
<line x1="843.0" y1="559.8" x2="843.0" y2="566.2" stroke="#26266f" stroke-width="1.4"/>
<line x1="865.3" y1="559.8" x2="865.3" y2="566.2" stroke="#26266f" stroke-width="1.4"/>
<line x1="868.1" y1="559.8" x2="868.1" y2="566.2" stroke="#26266f" stroke-width="1.4"/>
<line x1="875.0" y1="559.8" x2="875.0" y2="566.2" stroke="#26266f" stroke-width="1.6"/>
<text x="795.5" y="558" font-size="14.3" font-style="italic" fill="#111">NRXN1</text>
<path d="M792.3,552.4 H779 M783.5,549.4 L778.3,552.4 L783.5,555.4" fill="none" stroke="#111" stroke-width="1.3"/>
<g stroke="#222" stroke-width="1.4">
<line x1="101.5" y1="571.7" x2="101.5" y2="582.2"/>
<line x1="303.6" y1="571.7" x2="303.6" y2="582.2"/>
<line x1="505.8" y1="571.7" x2="505.8" y2="582.2"/>
<line x1="707.9" y1="571.7" x2="707.9" y2="582.2"/>
</g>
<g font-size="17" fill="#222" text-anchor="middle">
<text x="101.5" y="609.8">50</text>
<text x="303.6" y="609.8">50.2</text>
<text x="505.8" y="609.8">50.4</text>
<text x="707.9" y="609.8">50.6</text>
</g>
<text x="474.3" y="632.6" font-size="17" fill="#222" text-anchor="middle">Position on chr2 (Mb)</text>
</svg></body></html>
